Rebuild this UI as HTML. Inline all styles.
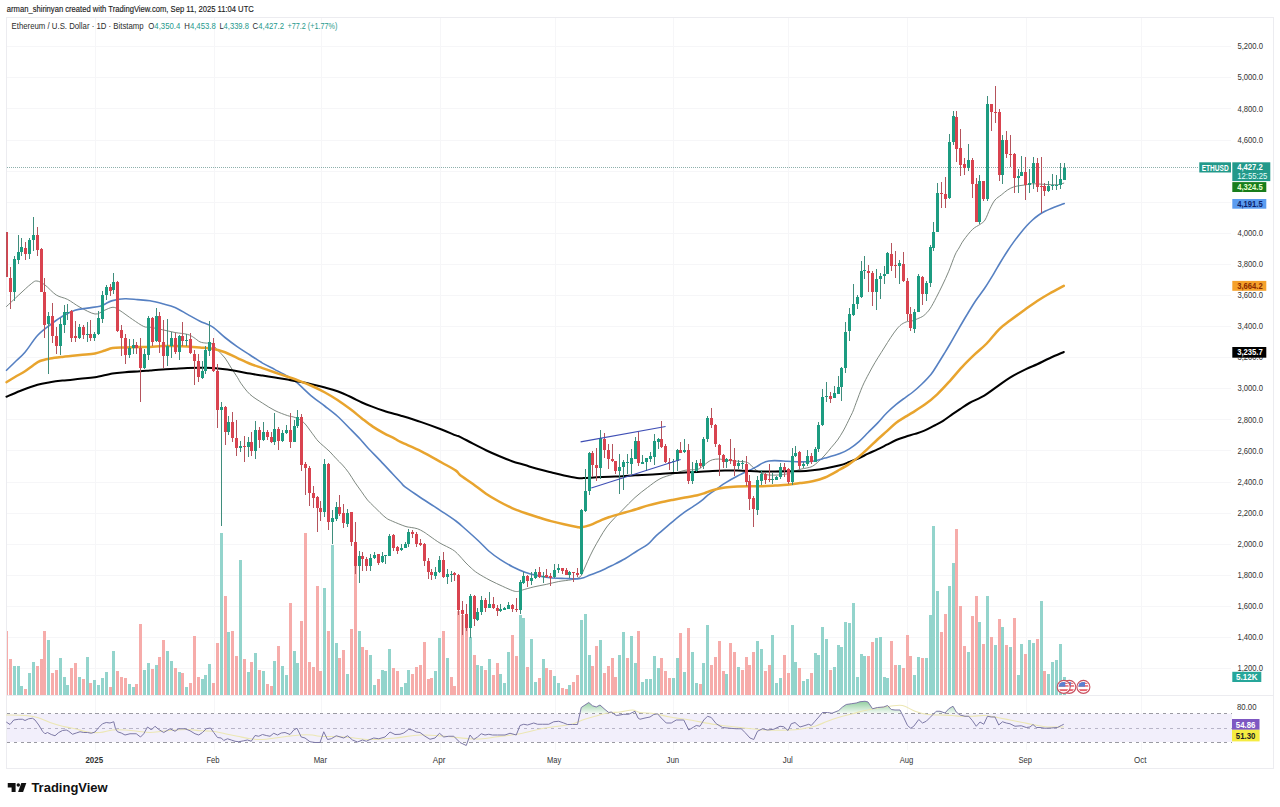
<!DOCTYPE html>
<html><head><meta charset="utf-8"><title>ETHUSD chart</title>
<style>html,body{margin:0;padding:0;background:#fff}body{width:1280px;height:807px;overflow:hidden;position:relative;font-family:"Liberation Sans",sans-serif}svg{position:absolute;left:0;top:0}text{font-family:"Liberation Sans",sans-serif}</style>
</head><body>
<svg width="1280" height="807" viewBox="0 0 1280 807">
<rect x="0" y="0" width="1280" height="807" fill="#ffffff"/>
<g stroke="#f6f6f8" stroke-width="1" shape-rendering="crispEdges">
<line x1="7" x2="1231" y1="46.5" y2="46.5"/>
<line x1="7" x2="1231" y1="77.5" y2="77.5"/>
<line x1="7" x2="1231" y1="108.5" y2="108.5"/>
<line x1="7" x2="1231" y1="140.5" y2="140.5"/>
<line x1="7" x2="1231" y1="171.5" y2="171.5"/>
<line x1="7" x2="1231" y1="202.5" y2="202.5"/>
<line x1="7" x2="1231" y1="233.5" y2="233.5"/>
<line x1="7" x2="1231" y1="264.5" y2="264.5"/>
<line x1="7" x2="1231" y1="295.5" y2="295.5"/>
<line x1="7" x2="1231" y1="326.5" y2="326.5"/>
<line x1="7" x2="1231" y1="357.5" y2="357.5"/>
<line x1="7" x2="1231" y1="388.5" y2="388.5"/>
<line x1="7" x2="1231" y1="419.5" y2="419.5"/>
<line x1="7" x2="1231" y1="450.5" y2="450.5"/>
<line x1="7" x2="1231" y1="482.5" y2="482.5"/>
<line x1="7" x2="1231" y1="513.5" y2="513.5"/>
<line x1="7" x2="1231" y1="544.5" y2="544.5"/>
<line x1="7" x2="1231" y1="575.5" y2="575.5"/>
<line x1="7" x2="1231" y1="606.5" y2="606.5"/>
<line x1="7" x2="1231" y1="637.5" y2="637.5"/>
<line x1="7" x2="1231" y1="668.5" y2="668.5"/>
<line x1="95.5" x2="95.5" y1="18" y2="750"/>
<line x1="214.5" x2="214.5" y1="18" y2="750"/>
<line x1="321.5" x2="321.5" y1="18" y2="750"/>
<line x1="440.5" x2="440.5" y1="18" y2="750"/>
<line x1="555.5" x2="555.5" y1="18" y2="750"/>
<line x1="673.5" x2="673.5" y1="18" y2="750"/>
<line x1="788.5" x2="788.5" y1="18" y2="750"/>
<line x1="907.5" x2="907.5" y1="18" y2="750"/>
<line x1="1026.5" x2="1026.5" y1="18" y2="750"/>
<line x1="1141.5" x2="1141.5" y1="18" y2="750"/>
</g>
<g fill="none" stroke="#ececf0" stroke-width="1" shape-rendering="crispEdges">
<rect x="6.5" y="17.5" width="1267" height="751"/>
<line x1="7" x2="1273" y1="695.5" y2="695.5"/>
</g>
<g shape-rendering="crispEdges">
<rect x="7" y="631" width="1" height="64" fill="#f6acaa"/>
<rect x="9" y="659" width="3" height="36" fill="#f6acaa"/>
<rect x="13" y="666" width="3" height="29" fill="#93d4cc"/>
<rect x="17" y="666" width="3" height="29" fill="#93d4cc"/>
<rect x="20" y="686" width="3" height="9" fill="#93d4cc"/>
<rect x="24" y="689" width="3" height="6" fill="#f6acaa"/>
<rect x="28" y="673" width="3" height="22" fill="#93d4cc"/>
<rect x="32" y="662" width="3" height="33" fill="#93d4cc"/>
<rect x="36" y="666" width="3" height="29" fill="#f6acaa"/>
<rect x="40" y="659" width="3" height="36" fill="#f6acaa"/>
<rect x="43" y="631" width="3" height="64" fill="#f6acaa"/>
<rect x="47" y="640" width="3" height="55" fill="#93d4cc"/>
<rect x="51" y="673" width="3" height="22" fill="#f6acaa"/>
<rect x="55" y="670" width="3" height="25" fill="#f6acaa"/>
<rect x="59" y="658" width="3" height="37" fill="#93d4cc"/>
<rect x="63" y="677" width="3" height="18" fill="#93d4cc"/>
<rect x="66" y="685" width="3" height="10" fill="#93d4cc"/>
<rect x="70" y="668" width="3" height="27" fill="#f6acaa"/>
<rect x="74" y="663" width="3" height="32" fill="#f6acaa"/>
<rect x="78" y="677" width="3" height="18" fill="#93d4cc"/>
<rect x="82" y="679" width="3" height="16" fill="#f6acaa"/>
<rect x="86" y="657" width="3" height="38" fill="#93d4cc"/>
<rect x="89" y="683" width="3" height="12" fill="#f6acaa"/>
<rect x="93" y="680" width="3" height="15" fill="#93d4cc"/>
<rect x="97" y="685" width="3" height="10" fill="#93d4cc"/>
<rect x="101" y="678" width="3" height="17" fill="#93d4cc"/>
<rect x="105" y="672" width="3" height="23" fill="#93d4cc"/>
<rect x="109" y="687" width="3" height="8" fill="#f6acaa"/>
<rect x="112" y="651" width="3" height="44" fill="#93d4cc"/>
<rect x="116" y="671" width="3" height="24" fill="#f6acaa"/>
<rect x="120" y="677" width="3" height="18" fill="#f6acaa"/>
<rect x="124" y="678" width="3" height="17" fill="#f6acaa"/>
<rect x="128" y="684" width="3" height="11" fill="#93d4cc"/>
<rect x="132" y="687" width="3" height="8" fill="#93d4cc"/>
<rect x="135" y="684" width="3" height="11" fill="#f6acaa"/>
<rect x="139" y="624" width="3" height="71" fill="#f6acaa"/>
<rect x="143" y="670" width="3" height="25" fill="#93d4cc"/>
<rect x="147" y="663" width="3" height="32" fill="#93d4cc"/>
<rect x="151" y="669" width="3" height="26" fill="#f6acaa"/>
<rect x="155" y="665" width="3" height="30" fill="#93d4cc"/>
<rect x="158" y="657" width="3" height="38" fill="#f6acaa"/>
<rect x="162" y="640" width="3" height="55" fill="#f6acaa"/>
<rect x="166" y="651" width="3" height="44" fill="#93d4cc"/>
<rect x="170" y="661" width="3" height="34" fill="#93d4cc"/>
<rect x="174" y="668" width="3" height="27" fill="#f6acaa"/>
<rect x="178" y="672" width="3" height="23" fill="#93d4cc"/>
<rect x="181" y="673" width="3" height="22" fill="#f6acaa"/>
<rect x="185" y="687" width="3" height="8" fill="#93d4cc"/>
<rect x="189" y="683" width="3" height="12" fill="#f6acaa"/>
<rect x="193" y="636" width="3" height="59" fill="#f6acaa"/>
<rect x="197" y="677" width="3" height="18" fill="#f6acaa"/>
<rect x="201" y="679" width="3" height="16" fill="#93d4cc"/>
<rect x="204" y="675" width="3" height="20" fill="#93d4cc"/>
<rect x="208" y="664" width="3" height="31" fill="#93d4cc"/>
<rect x="212" y="683" width="3" height="12" fill="#f6acaa"/>
<rect x="216" y="643" width="3" height="52" fill="#f6acaa"/>
<rect x="220" y="533" width="3" height="162" fill="#93d4cc"/>
<rect x="224" y="596" width="3" height="99" fill="#f6acaa"/>
<rect x="227" y="632" width="3" height="63" fill="#93d4cc"/>
<rect x="231" y="631" width="3" height="64" fill="#f6acaa"/>
<rect x="235" y="656" width="3" height="39" fill="#f6acaa"/>
<rect x="239" y="560" width="3" height="135" fill="#93d4cc"/>
<rect x="243" y="659" width="3" height="36" fill="#f6acaa"/>
<rect x="247" y="672" width="3" height="23" fill="#93d4cc"/>
<rect x="250" y="662" width="3" height="33" fill="#f6acaa"/>
<rect x="254" y="653" width="3" height="42" fill="#93d4cc"/>
<rect x="258" y="670" width="3" height="25" fill="#f6acaa"/>
<rect x="262" y="671" width="3" height="24" fill="#93d4cc"/>
<rect x="266" y="684" width="3" height="11" fill="#f6acaa"/>
<rect x="270" y="686" width="3" height="9" fill="#f6acaa"/>
<rect x="273" y="661" width="3" height="34" fill="#93d4cc"/>
<rect x="277" y="646" width="3" height="49" fill="#f6acaa"/>
<rect x="281" y="666" width="3" height="29" fill="#93d4cc"/>
<rect x="285" y="675" width="3" height="20" fill="#93d4cc"/>
<rect x="289" y="603" width="3" height="92" fill="#f6acaa"/>
<rect x="293" y="651" width="3" height="44" fill="#93d4cc"/>
<rect x="296" y="663" width="3" height="32" fill="#93d4cc"/>
<rect x="300" y="621" width="3" height="74" fill="#f6acaa"/>
<rect x="304" y="533" width="3" height="162" fill="#f6acaa"/>
<rect x="308" y="662" width="3" height="33" fill="#f6acaa"/>
<rect x="312" y="667" width="3" height="28" fill="#f6acaa"/>
<rect x="316" y="586" width="3" height="109" fill="#f6acaa"/>
<rect x="319" y="671" width="3" height="24" fill="#f6acaa"/>
<rect x="323" y="588" width="3" height="107" fill="#93d4cc"/>
<rect x="327" y="631" width="3" height="64" fill="#f6acaa"/>
<rect x="331" y="545" width="3" height="150" fill="#93d4cc"/>
<rect x="335" y="643" width="3" height="52" fill="#93d4cc"/>
<rect x="338" y="658" width="3" height="37" fill="#f6acaa"/>
<rect x="342" y="650" width="3" height="45" fill="#f6acaa"/>
<rect x="346" y="674" width="3" height="21" fill="#93d4cc"/>
<rect x="350" y="629" width="3" height="66" fill="#f6acaa"/>
<rect x="354" y="560" width="3" height="135" fill="#f6acaa"/>
<rect x="358" y="631" width="3" height="64" fill="#93d4cc"/>
<rect x="361" y="647" width="3" height="48" fill="#f6acaa"/>
<rect x="365" y="650" width="3" height="45" fill="#f6acaa"/>
<rect x="369" y="655" width="3" height="40" fill="#93d4cc"/>
<rect x="373" y="685" width="3" height="10" fill="#93d4cc"/>
<rect x="377" y="679" width="3" height="16" fill="#f6acaa"/>
<rect x="381" y="670" width="3" height="25" fill="#93d4cc"/>
<rect x="384" y="671" width="3" height="24" fill="#93d4cc"/>
<rect x="388" y="649" width="3" height="46" fill="#93d4cc"/>
<rect x="392" y="668" width="3" height="27" fill="#f6acaa"/>
<rect x="396" y="671" width="3" height="24" fill="#f6acaa"/>
<rect x="400" y="687" width="3" height="8" fill="#93d4cc"/>
<rect x="404" y="683" width="3" height="12" fill="#93d4cc"/>
<rect x="407" y="670" width="3" height="25" fill="#93d4cc"/>
<rect x="411" y="674" width="3" height="21" fill="#f6acaa"/>
<rect x="415" y="667" width="3" height="28" fill="#f6acaa"/>
<rect x="419" y="665" width="3" height="30" fill="#f6acaa"/>
<rect x="423" y="642" width="3" height="53" fill="#f6acaa"/>
<rect x="427" y="679" width="3" height="16" fill="#f6acaa"/>
<rect x="430" y="678" width="3" height="17" fill="#f6acaa"/>
<rect x="434" y="671" width="3" height="24" fill="#93d4cc"/>
<rect x="438" y="638" width="3" height="57" fill="#93d4cc"/>
<rect x="442" y="631" width="3" height="64" fill="#f6acaa"/>
<rect x="446" y="658" width="3" height="37" fill="#93d4cc"/>
<rect x="450" y="677" width="3" height="18" fill="#f6acaa"/>
<rect x="453" y="686" width="3" height="9" fill="#f6acaa"/>
<rect x="457" y="611" width="3" height="84" fill="#f6acaa"/>
<rect x="461" y="615" width="3" height="80" fill="#f6acaa"/>
<rect x="465" y="627" width="3" height="68" fill="#f6acaa"/>
<rect x="469" y="637" width="3" height="58" fill="#93d4cc"/>
<rect x="473" y="655" width="3" height="40" fill="#f6acaa"/>
<rect x="476" y="665" width="3" height="30" fill="#93d4cc"/>
<rect x="480" y="666" width="3" height="29" fill="#93d4cc"/>
<rect x="484" y="670" width="3" height="25" fill="#f6acaa"/>
<rect x="488" y="659" width="3" height="36" fill="#93d4cc"/>
<rect x="492" y="675" width="3" height="20" fill="#f6acaa"/>
<rect x="496" y="663" width="3" height="32" fill="#f6acaa"/>
<rect x="499" y="674" width="3" height="21" fill="#93d4cc"/>
<rect x="503" y="683" width="3" height="12" fill="#93d4cc"/>
<rect x="507" y="652" width="3" height="43" fill="#93d4cc"/>
<rect x="511" y="635" width="3" height="60" fill="#f6acaa"/>
<rect x="515" y="656" width="3" height="39" fill="#f6acaa"/>
<rect x="519" y="615" width="3" height="80" fill="#93d4cc"/>
<rect x="522" y="618" width="3" height="77" fill="#93d4cc"/>
<rect x="526" y="667" width="3" height="28" fill="#f6acaa"/>
<rect x="530" y="639" width="3" height="56" fill="#93d4cc"/>
<rect x="534" y="682" width="3" height="13" fill="#93d4cc"/>
<rect x="538" y="678" width="3" height="17" fill="#f6acaa"/>
<rect x="542" y="659" width="3" height="36" fill="#93d4cc"/>
<rect x="545" y="668" width="3" height="27" fill="#f6acaa"/>
<rect x="549" y="670" width="3" height="25" fill="#f6acaa"/>
<rect x="553" y="676" width="3" height="19" fill="#93d4cc"/>
<rect x="557" y="683" width="3" height="12" fill="#93d4cc"/>
<rect x="561" y="688" width="3" height="7" fill="#f6acaa"/>
<rect x="565" y="689" width="3" height="6" fill="#f6acaa"/>
<rect x="568" y="685" width="3" height="10" fill="#93d4cc"/>
<rect x="572" y="682" width="3" height="13" fill="#f6acaa"/>
<rect x="576" y="675" width="3" height="20" fill="#f6acaa"/>
<rect x="580" y="620" width="3" height="75" fill="#93d4cc"/>
<rect x="584" y="614" width="3" height="81" fill="#93d4cc"/>
<rect x="588" y="655" width="3" height="40" fill="#93d4cc"/>
<rect x="591" y="666" width="3" height="29" fill="#f6acaa"/>
<rect x="595" y="646" width="3" height="49" fill="#f6acaa"/>
<rect x="599" y="640" width="3" height="55" fill="#93d4cc"/>
<rect x="603" y="673" width="3" height="22" fill="#f6acaa"/>
<rect x="607" y="666" width="3" height="29" fill="#f6acaa"/>
<rect x="611" y="658" width="3" height="37" fill="#f6acaa"/>
<rect x="614" y="677" width="3" height="18" fill="#f6acaa"/>
<rect x="618" y="655" width="3" height="40" fill="#93d4cc"/>
<rect x="622" y="632" width="3" height="63" fill="#93d4cc"/>
<rect x="626" y="658" width="3" height="37" fill="#f6acaa"/>
<rect x="630" y="636" width="3" height="59" fill="#93d4cc"/>
<rect x="634" y="663" width="3" height="32" fill="#93d4cc"/>
<rect x="637" y="631" width="3" height="64" fill="#f6acaa"/>
<rect x="641" y="682" width="3" height="13" fill="#93d4cc"/>
<rect x="645" y="679" width="3" height="16" fill="#93d4cc"/>
<rect x="649" y="679" width="3" height="16" fill="#93d4cc"/>
<rect x="653" y="656" width="3" height="39" fill="#93d4cc"/>
<rect x="657" y="668" width="3" height="27" fill="#93d4cc"/>
<rect x="660" y="658" width="3" height="37" fill="#f6acaa"/>
<rect x="664" y="671" width="3" height="24" fill="#f6acaa"/>
<rect x="668" y="678" width="3" height="17" fill="#f6acaa"/>
<rect x="672" y="678" width="3" height="17" fill="#93d4cc"/>
<rect x="676" y="658" width="3" height="37" fill="#93d4cc"/>
<rect x="679" y="633" width="3" height="62" fill="#f6acaa"/>
<rect x="683" y="672" width="3" height="23" fill="#93d4cc"/>
<rect x="687" y="628" width="3" height="67" fill="#f6acaa"/>
<rect x="691" y="652" width="3" height="43" fill="#93d4cc"/>
<rect x="695" y="683" width="3" height="12" fill="#93d4cc"/>
<rect x="699" y="684" width="3" height="11" fill="#f6acaa"/>
<rect x="702" y="663" width="3" height="32" fill="#93d4cc"/>
<rect x="706" y="625" width="3" height="70" fill="#93d4cc"/>
<rect x="710" y="665" width="3" height="30" fill="#f6acaa"/>
<rect x="714" y="657" width="3" height="38" fill="#f6acaa"/>
<rect x="718" y="641" width="3" height="54" fill="#f6acaa"/>
<rect x="722" y="671" width="3" height="24" fill="#f6acaa"/>
<rect x="725" y="674" width="3" height="21" fill="#93d4cc"/>
<rect x="729" y="643" width="3" height="52" fill="#f6acaa"/>
<rect x="733" y="652" width="3" height="43" fill="#f6acaa"/>
<rect x="737" y="667" width="3" height="28" fill="#93d4cc"/>
<rect x="741" y="670" width="3" height="25" fill="#f6acaa"/>
<rect x="745" y="657" width="3" height="38" fill="#f6acaa"/>
<rect x="748" y="665" width="3" height="30" fill="#f6acaa"/>
<rect x="752" y="652" width="3" height="43" fill="#f6acaa"/>
<rect x="756" y="641" width="3" height="54" fill="#93d4cc"/>
<rect x="760" y="649" width="3" height="46" fill="#93d4cc"/>
<rect x="764" y="671" width="3" height="24" fill="#f6acaa"/>
<rect x="768" y="665" width="3" height="30" fill="#f6acaa"/>
<rect x="771" y="635" width="3" height="60" fill="#93d4cc"/>
<rect x="775" y="683" width="3" height="12" fill="#93d4cc"/>
<rect x="779" y="678" width="3" height="17" fill="#93d4cc"/>
<rect x="783" y="655" width="3" height="40" fill="#f6acaa"/>
<rect x="787" y="673" width="3" height="22" fill="#f6acaa"/>
<rect x="791" y="625" width="3" height="70" fill="#93d4cc"/>
<rect x="794" y="662" width="3" height="33" fill="#93d4cc"/>
<rect x="798" y="668" width="3" height="27" fill="#f6acaa"/>
<rect x="802" y="681" width="3" height="14" fill="#93d4cc"/>
<rect x="806" y="679" width="3" height="16" fill="#93d4cc"/>
<rect x="810" y="673" width="3" height="22" fill="#f6acaa"/>
<rect x="814" y="653" width="3" height="42" fill="#93d4cc"/>
<rect x="817" y="655" width="3" height="40" fill="#93d4cc"/>
<rect x="821" y="627" width="3" height="68" fill="#93d4cc"/>
<rect x="825" y="639" width="3" height="56" fill="#93d4cc"/>
<rect x="829" y="670" width="3" height="25" fill="#f6acaa"/>
<rect x="833" y="667" width="3" height="28" fill="#93d4cc"/>
<rect x="837" y="645" width="3" height="50" fill="#93d4cc"/>
<rect x="840" y="647" width="3" height="48" fill="#93d4cc"/>
<rect x="844" y="622" width="3" height="73" fill="#93d4cc"/>
<rect x="848" y="623" width="3" height="72" fill="#93d4cc"/>
<rect x="852" y="603" width="3" height="92" fill="#93d4cc"/>
<rect x="856" y="677" width="3" height="18" fill="#93d4cc"/>
<rect x="860" y="654" width="3" height="41" fill="#93d4cc"/>
<rect x="863" y="656" width="3" height="39" fill="#93d4cc"/>
<rect x="867" y="656" width="3" height="39" fill="#f6acaa"/>
<rect x="871" y="642" width="3" height="53" fill="#f6acaa"/>
<rect x="875" y="638" width="3" height="57" fill="#93d4cc"/>
<rect x="879" y="637" width="3" height="58" fill="#93d4cc"/>
<rect x="883" y="677" width="3" height="18" fill="#93d4cc"/>
<rect x="886" y="678" width="3" height="17" fill="#93d4cc"/>
<rect x="890" y="641" width="3" height="54" fill="#f6acaa"/>
<rect x="894" y="665" width="3" height="30" fill="#f6acaa"/>
<rect x="898" y="665" width="3" height="30" fill="#93d4cc"/>
<rect x="902" y="668" width="3" height="27" fill="#f6acaa"/>
<rect x="906" y="635" width="3" height="60" fill="#f6acaa"/>
<rect x="909" y="656" width="3" height="39" fill="#f6acaa"/>
<rect x="913" y="675" width="3" height="20" fill="#93d4cc"/>
<rect x="917" y="657" width="3" height="38" fill="#93d4cc"/>
<rect x="921" y="658" width="3" height="37" fill="#f6acaa"/>
<rect x="925" y="658" width="3" height="37" fill="#93d4cc"/>
<rect x="929" y="615" width="3" height="80" fill="#93d4cc"/>
<rect x="932" y="526" width="3" height="169" fill="#93d4cc"/>
<rect x="936" y="591" width="3" height="104" fill="#93d4cc"/>
<rect x="940" y="632" width="3" height="63" fill="#f6acaa"/>
<rect x="944" y="614" width="3" height="81" fill="#f6acaa"/>
<rect x="948" y="586" width="3" height="109" fill="#93d4cc"/>
<rect x="952" y="563" width="3" height="132" fill="#93d4cc"/>
<rect x="955" y="529" width="3" height="166" fill="#f6acaa"/>
<rect x="959" y="606" width="3" height="89" fill="#f6acaa"/>
<rect x="963" y="646" width="3" height="49" fill="#f6acaa"/>
<rect x="967" y="652" width="3" height="43" fill="#93d4cc"/>
<rect x="971" y="616" width="3" height="79" fill="#f6acaa"/>
<rect x="975" y="596" width="3" height="99" fill="#f6acaa"/>
<rect x="978" y="622" width="3" height="73" fill="#93d4cc"/>
<rect x="982" y="644" width="3" height="51" fill="#f6acaa"/>
<rect x="986" y="596" width="3" height="99" fill="#93d4cc"/>
<rect x="990" y="637" width="3" height="58" fill="#f6acaa"/>
<rect x="994" y="645" width="3" height="50" fill="#93d4cc"/>
<rect x="998" y="619" width="3" height="76" fill="#f6acaa"/>
<rect x="1001" y="627" width="3" height="68" fill="#93d4cc"/>
<rect x="1005" y="645" width="3" height="50" fill="#f6acaa"/>
<rect x="1009" y="647" width="3" height="48" fill="#93d4cc"/>
<rect x="1013" y="618" width="3" height="77" fill="#f6acaa"/>
<rect x="1017" y="675" width="3" height="20" fill="#93d4cc"/>
<rect x="1020" y="644" width="3" height="51" fill="#93d4cc"/>
<rect x="1024" y="654" width="3" height="41" fill="#f6acaa"/>
<rect x="1028" y="640" width="3" height="55" fill="#93d4cc"/>
<rect x="1032" y="643" width="3" height="52" fill="#93d4cc"/>
<rect x="1036" y="639" width="3" height="56" fill="#f6acaa"/>
<rect x="1040" y="601" width="3" height="94" fill="#93d4cc"/>
<rect x="1043" y="671" width="3" height="24" fill="#f6acaa"/>
<rect x="1047" y="674" width="3" height="21" fill="#93d4cc"/>
<rect x="1051" y="662" width="3" height="33" fill="#93d4cc"/>
<rect x="1055" y="660" width="3" height="35" fill="#93d4cc"/>
<rect x="1059" y="644" width="3" height="51" fill="#93d4cc"/>
<rect x="1063" y="677" width="3" height="18" fill="#93d4cc"/>
</g>
<line x1="7" x2="1199" y1="167.5" y2="167.5" stroke="#5f8f89" stroke-width="1" stroke-dasharray="1 1" opacity="0.7" shape-rendering="crispEdges"/>
<g fill="none" stroke-linejoin="round" stroke-linecap="round">
<path d="M6.5 306.5C8.54 304.58 14.62 298.79 18.75 295C22.88 291.21 28.23 286.08 31.25 283.75C34.27 281.42 34.61 280.79 36.9 281C39.19 281.21 41.77 282.67 45 285C48.23 287.33 52.5 292.6 56.25 295C60 297.4 63.54 297.36 67.5 299.4C71.46 301.44 75.42 304.82 80 307.25C84.58 309.68 91.04 313.44 95 314C98.96 314.56 100.75 311.73 103.75 310.6C106.75 309.48 110.29 307.25 113 307.25C115.71 307.25 116.75 308.58 120 310.6C123.25 312.62 128.54 316.75 132.5 319.4C136.46 322.05 140.83 325.2 143.75 326.5C146.67 327.8 146.88 326.66 150 327.2C153.12 327.74 158.33 328.87 162.5 329.75C166.67 330.63 170.83 331.73 175 332.5C179.17 333.27 184.38 333.57 187.5 334.4C190.62 335.23 191.67 336.25 193.75 337.5C195.83 338.75 197.92 340.97 200 341.9C202.08 342.83 204.42 342.87 206.25 343.1C208.08 343.33 209.12 342.15 211 343.3C212.88 344.45 215.17 347.55 217.5 350C219.83 352.45 222.71 355 225 358C227.29 361 229.17 364.75 231.25 368C233.33 371.25 235.83 374.88 237.5 377.5C239.17 380.12 239.17 380.93 241.25 383.75C243.33 386.57 246.46 391.17 250 394.4C253.54 397.62 258.33 400.4 262.5 403.1C266.67 405.8 270.83 408.52 275 410.6C279.17 412.68 284.17 414.45 287.5 415.6C290.83 416.75 292.29 416.35 295 417.5C297.71 418.65 300.83 419.79 303.75 422.5C306.67 425.21 310.12 430.67 312.5 433.75C314.88 436.83 316.12 438.92 318 441C319.88 443.08 321.75 444.43 323.75 446.25C325.75 448.07 327.92 449.82 330 451.9C332.08 453.98 334.17 456.57 336.25 458.75C338.33 460.93 340.42 462.67 342.5 465C344.58 467.33 346.67 469.83 348.75 472.75C350.83 475.67 352.92 479.42 355 482.5C357.08 485.58 359.17 488.33 361.25 491.25C363.33 494.17 365.42 497.5 367.5 500C369.58 502.5 371.67 504.17 373.75 506.25C375.83 508.33 377.92 510.52 380 512.5C382.08 514.48 384.17 516.64 386.25 518.1C388.33 519.56 389.38 519.89 392.5 521.25C395.62 522.61 401.88 525.21 405 526.25C408.12 527.29 409.17 527.08 411.25 527.5C413.33 527.92 415.42 528.02 417.5 528.75C419.58 529.48 421.67 530.65 423.75 531.9C425.83 533.15 427.29 534.38 430 536.25C432.71 538.12 436.25 540.88 440 543.1C443.75 545.33 449.38 547.62 452.5 549.6C455.62 551.58 456.67 552.93 458.75 555C460.83 557.07 462.92 559.82 465 562C467.08 564.18 469.17 566.25 471.25 568.1C473.33 569.95 474.38 571.07 477.5 573.1C480.62 575.13 485.83 578.11 490 580.3C494.17 582.49 498.75 584.53 502.5 586.25C506.25 587.97 510 589.73 512.5 590.6C515 591.48 515.83 591.6 517.5 591.5C519.17 591.4 519.79 590.77 522.5 590C525.21 589.23 529.79 587.83 533.75 586.9C537.71 585.97 542.08 585.3 546.25 584.4C550.42 583.5 554.58 582.27 558.75 581.5C562.92 580.73 567.71 580.52 571.25 579.75C574.79 578.98 577.92 578.52 580 576.9C582.08 575.27 582.48 572.6 583.75 570C585.02 567.4 586.06 564.63 587.6 561.3C589.14 557.97 590.93 553.95 593 550C595.07 546.05 597.83 541.27 600 537.6C602.17 533.93 603.88 530.93 606 528C608.12 525.07 609.95 523 612.7 520C615.45 517 618.78 513.75 622.5 510C626.22 506.25 630.83 501.25 635 497.5C639.17 493.75 643.33 490.62 647.5 487.5C651.67 484.38 655.83 480.98 660 478.8C664.17 476.62 668.33 475.82 672.5 474.4C676.67 472.98 680.83 471.13 685 470.3C689.17 469.47 694.5 470.12 697.5 469.4C700.5 468.68 701.25 467.23 703 466C704.75 464.77 706.42 463.04 708 462C709.58 460.96 710.71 460.25 712.5 459.75C714.29 459.25 716.67 458.96 718.75 459C720.83 459.04 721.88 459.62 725 460C728.12 460.38 733.75 460.83 737.5 461.25C741.25 461.67 744.79 461.36 747.5 462.5C750.21 463.64 751.67 466.43 753.75 468.1C755.83 469.77 757.5 471.35 760 472.5C762.5 473.65 765.21 474.62 768.75 475C772.29 475.38 777.71 475.07 781.25 474.75C784.79 474.43 786.88 473.99 790 473.1C793.12 472.21 797.29 470.23 800 469.4C802.71 468.57 804.17 468.62 806.25 468.1C808.33 467.58 810.42 467.39 812.5 466.25C814.58 465.11 816.67 463.12 818.75 461.25C820.83 459.38 822.92 457.29 825 455C827.08 452.71 829.17 450 831.25 447.5C833.33 445 835.42 442.92 837.5 440C839.58 437.08 841.67 433.75 843.75 430C845.83 426.25 848.44 420.67 850 417.5C851.56 414.33 852.06 413.5 853.1 411C854.14 408.5 854.68 406.62 856.25 402.5C857.82 398.38 860.42 391.04 862.5 386.25C864.58 381.46 866.67 377.71 868.75 373.75C870.83 369.79 872.92 366.04 875 362.5C877.08 358.96 879.17 355.83 881.25 352.5C883.33 349.17 885.42 345.73 887.5 342.5C889.58 339.27 891.67 335.92 893.75 333.1C895.83 330.28 897.92 327.47 900 325.6C902.08 323.73 904.38 322.62 906.25 321.9C908.12 321.17 909.38 321.77 911.25 321.25C913.12 320.73 915.42 319.69 917.5 318.75C919.58 317.81 921.67 317.27 923.75 315.6C925.83 313.93 927.92 311.77 930 308.75C932.08 305.73 934.17 301.46 936.25 297.5C938.33 293.54 940.42 289.38 942.5 285C944.58 280.62 946.67 276.25 948.75 271.25C950.83 266.25 953.29 258.88 955 255C956.71 251.12 957.54 250.5 959 248C960.46 245.5 961.5 243.1 963.75 240C966 236.9 969.79 232 972.5 229.4C975.21 226.8 977.92 225.97 980 224.4C982.08 222.83 983.33 222.61 985 220C986.67 217.39 988.33 212.08 990 208.75C991.67 205.42 993.12 202.29 995 200C996.88 197.71 999.17 196.67 1001.25 195C1003.33 193.33 1005.42 191.35 1007.5 190C1009.58 188.65 1011.67 187.63 1013.75 186.9C1015.83 186.17 1017.92 185.96 1020 185.6C1022.08 185.24 1024.17 185.06 1026.25 184.75C1028.33 184.44 1029.38 183.81 1032.5 183.75C1035.62 183.69 1040.83 184.23 1045 184.4C1049.17 184.57 1054.38 184.97 1057.5 184.75C1060.62 184.53 1062.71 183.38 1063.75 183.1" stroke="#6f7a72" stroke-width="0.9"/>
<path d="M6.5 370.3C7.92 368.92 11.92 365.02 15 362C18.08 358.98 21.25 356.62 25 352.2C28.75 347.78 33.33 340.03 37.5 335.5C41.67 330.97 45.83 328.21 50 325C54.17 321.79 58.33 318.71 62.5 316.25C66.67 313.79 70.83 311.61 75 310.25C79.17 308.89 83.33 308.77 87.5 308.1C91.67 307.43 96.92 307.02 100 306.25C103.08 305.48 103.92 304.44 106 303.5C108.08 302.56 109.33 301.39 112.5 300.6C115.67 299.81 120.83 298.92 125 298.75C129.17 298.58 133.33 299.26 137.5 299.6C141.67 299.94 145.83 300.11 150 300.8C154.17 301.49 158.33 302.63 162.5 303.75C166.67 304.87 170.83 305.73 175 307.5C179.17 309.27 183.33 312.11 187.5 314.4C191.67 316.69 195.83 319.17 200 321.25C204.17 323.33 208.33 324.19 212.5 326.9C216.67 329.61 220.83 334.17 225 337.5C229.17 340.83 233.33 343.98 237.5 346.9C241.67 349.82 245.83 352.3 250 355C254.17 357.7 258.33 360.67 262.5 363.1C266.67 365.53 270.83 367.41 275 369.6C279.17 371.79 284.17 374.35 287.5 376.25C290.83 378.15 292.92 379.48 295 381C297.08 382.52 297.08 382.75 300 385.4C302.92 388.05 308.33 393.42 312.5 396.9C316.67 400.38 320.83 403.02 325 406.25C329.17 409.48 333.33 412.5 337.5 416.25C341.67 420 346.2 424.91 350 428.75C353.8 432.59 357.38 436.18 360.3 439.3C363.22 442.43 364.1 443.87 367.5 447.5C370.9 451.13 376.53 456.73 380.7 461.1C384.87 465.48 389.12 470.13 392.5 473.75C395.88 477.37 398.92 480.61 401 482.8C403.08 484.99 402.25 484.78 405 486.9C407.75 489.02 413.33 492.69 417.5 495.5C421.67 498.31 425.98 501.12 430 503.75C434.02 506.38 437.28 508.43 441.6 511.3C445.92 514.17 452 518.09 455.9 521C459.8 523.91 461.4 525.58 465 528.75C468.6 531.92 473.33 536.12 477.5 540C481.67 543.88 486.25 548.77 490 552C493.75 555.23 496.25 556.95 500 559.4C503.75 561.85 508.33 564.57 512.5 566.7C516.67 568.83 520.83 570.72 525 572.2C529.17 573.68 533.33 574.68 537.5 575.6C541.67 576.52 545.42 577.22 550 577.7C554.58 578.18 560.42 578.3 565 578.5C569.58 578.7 574.38 579.02 577.5 578.9C580.62 578.77 581.67 578.4 583.75 577.75C585.83 577.1 587.29 576.09 590 575C592.71 573.91 596.33 572.78 600 571.2C603.67 569.62 607.83 567.57 612 565.5C616.17 563.43 620.83 561.22 625 558.8C629.17 556.38 633.22 553.4 637 551C640.78 548.6 644.73 546.72 647.7 544.4C650.67 542.08 652.63 539.2 654.8 537.1C656.97 535 657.77 534.35 660.7 531.8C663.63 529.25 668.48 525.03 672.4 521.8C676.32 518.57 680.27 515.25 684.2 512.4C688.13 509.55 693.05 506.7 696 504.7C698.95 502.7 699.93 501.98 701.9 500.4C703.87 498.82 706.03 496.62 707.8 495.2C709.57 493.78 709.63 493.92 712.5 491.9C715.37 489.88 720.83 485.75 725 483.1C729.17 480.45 733.33 478.18 737.5 476C741.67 473.82 746.88 471.52 750 470C753.12 468.48 754.17 468.05 756.25 466.9C758.33 465.75 760.42 464.08 762.5 463.1C764.58 462.12 766.67 461.42 768.75 461C770.83 460.58 771.88 460.56 775 460.6C778.12 460.64 783.33 461.03 787.5 461.25C791.67 461.47 795.83 461.9 800 461.9C804.17 461.9 808.33 461.88 812.5 461.25C816.67 460.62 820.42 459.38 825 458.1C829.58 456.83 835.93 455.13 840 453.6C844.07 452.07 846.28 450.85 849.4 448.9C852.52 446.95 855.58 444.63 858.7 441.9C861.82 439.17 864.97 435.63 868.1 432.5C871.23 429.37 874.37 426.38 877.5 423.1C880.63 419.82 883.78 415.92 886.9 412.8C890.02 409.68 893.08 406.98 896.2 404.4C899.32 401.82 902.82 399.37 905.6 397.3C908.38 395.23 910.18 394.22 912.9 392C915.62 389.78 918.9 386.92 921.9 384C924.9 381.08 928.3 377.75 930.9 374.5C933.5 371.25 935.32 367.92 937.5 364.5C939.68 361.08 941.92 357.42 944 354C946.08 350.58 947.7 347.95 950 344C952.3 340.05 955 335.13 957.8 330.3C960.6 325.47 963.8 319.97 966.8 315C969.8 310.03 972.8 305 975.8 300.5C978.8 296 981.8 292.48 984.8 288C987.8 283.52 991.27 277.77 993.8 273.6C996.33 269.43 997.72 266.77 1000 263C1002.28 259.23 1005.21 254.52 1007.5 251C1009.79 247.48 1011.67 244.78 1013.75 241.9C1015.83 239.03 1017.92 236.36 1020 233.75C1022.08 231.14 1024.17 228.54 1026.25 226.25C1028.33 223.96 1030.42 221.88 1032.5 220C1034.58 218.12 1036.67 216.46 1038.75 215C1040.83 213.54 1042.92 212.33 1045 211.25C1047.08 210.17 1049.17 209.38 1051.25 208.5C1053.33 207.62 1055.33 206.83 1057.5 206C1059.67 205.17 1063.12 203.92 1064.25 203.5" stroke="#5680c2" stroke-width="1.6"/>
<path d="M6.5 396.7C8.75 395.75 14.83 392.99 20 391C25.17 389.01 32.5 386.2 37.5 384.75C42.5 383.3 45.83 382.99 50 382.3C54.17 381.61 57.5 381.18 62.5 380.6C67.5 380.02 74.58 379.36 80 378.8C85.42 378.24 89.58 378.13 95 377.25C100.42 376.37 107.5 374.34 112.5 373.5C117.5 372.66 120.42 372.57 125 372.2C129.58 371.82 135.83 371.55 140 371.25C144.17 370.95 146.25 370.71 150 370.4C153.75 370.09 158.33 369.67 162.5 369.4C166.67 369.12 170.83 368.97 175 368.75C179.17 368.53 183.33 368.27 187.5 368.1C191.67 367.93 195.83 367.78 200 367.75C204.17 367.72 208.33 367.66 212.5 367.9C216.67 368.14 220.83 368.65 225 369.2C229.17 369.75 233.33 370.47 237.5 371.2C241.67 371.93 245.83 372.87 250 373.6C254.17 374.33 258.33 374.95 262.5 375.6C266.67 376.25 270.83 376.83 275 377.5C279.17 378.17 283.33 378.88 287.5 379.6C291.67 380.32 295.83 381 300 381.8C304.17 382.6 308.33 383.45 312.5 384.4C316.67 385.35 320.83 386.36 325 387.5C329.17 388.64 333.18 389.67 337.5 391.25C341.82 392.83 346.83 395.12 350.9 397C354.97 398.88 358.25 400.85 361.9 402.5C365.55 404.15 369.17 405.53 372.8 406.9C376.43 408.27 380.05 409.52 383.7 410.7C387.35 411.88 391.82 413.17 394.7 414C397.58 414.83 396.57 414.35 401 415.7C405.43 417.05 414.53 419.8 421.3 422.1C428.07 424.4 435.83 427.28 441.6 429.5C447.37 431.72 452.83 434.18 455.9 435.4C458.97 436.62 457.15 435.42 460 436.8C462.85 438.18 468.67 441.47 473 443.7C477.33 445.93 481.67 448.15 486 450.2C490.33 452.25 494.67 454.17 499 456C503.33 457.83 507.67 459.68 512 461.2C516.33 462.72 520.67 463.8 525 465.1C529.33 466.4 533.67 467.8 538 469C542.33 470.2 546.67 471.22 551 472.3C555.33 473.38 559.67 474.57 564 475.5C568.33 476.43 573.73 477.47 577 477.9C580.27 478.33 580.33 478.2 583.6 478.1C586.87 478 592.2 477.53 596.6 477.3C601 477.07 605.68 476.88 610 476.7C614.32 476.52 618.33 476.49 622.5 476.25C626.67 476.01 630.83 475.5 635 475.25C639.17 475 643.33 474.96 647.5 474.75C651.67 474.54 655.83 474.27 660 474C664.17 473.73 668.33 473.35 672.5 473.1C676.67 472.85 680.83 472.7 685 472.5C689.17 472.3 692.92 472.15 697.5 471.9C702.08 471.65 707.92 471.22 712.5 471C717.08 470.78 720.83 470.67 725 470.6C729.17 470.53 733.33 470.53 737.5 470.6C741.67 470.67 745.83 470.85 750 471C754.17 471.15 758.33 471.42 762.5 471.5C766.67 471.58 770.83 471.54 775 471.5C779.17 471.46 783.33 471.29 787.5 471.25C791.67 471.21 795.83 471.42 800 471.25C804.17 471.08 808.33 470.71 812.5 470.25C816.67 469.79 820.42 469.32 825 468.5C829.58 467.68 835.93 466.38 840 465.3C844.07 464.22 846.28 463.17 849.4 462C852.52 460.83 855.58 459.7 858.7 458.3C861.82 456.9 864.97 455.08 868.1 453.6C871.23 452.12 874.37 450.88 877.5 449.4C880.63 447.92 883.78 446.27 886.9 444.7C890.02 443.13 893.08 441.33 896.2 440C899.32 438.67 902.47 437.72 905.6 436.7C908.73 435.68 911.87 434.92 915 433.9C918.13 432.88 921.28 431.93 924.4 430.6C927.52 429.27 930.58 427.53 933.7 425.9C936.82 424.27 939.97 422.75 943.1 420.8C946.23 418.85 949.68 416.15 952.5 414.2C955.32 412.25 957.18 410.97 960 409.1C962.82 407.23 965.35 405.25 969.4 403C973.45 400.75 979.75 398.28 984.3 395.6C988.85 392.92 992.42 389.9 996.7 386.9C1000.98 383.9 1005.12 380.57 1010 377.6C1014.88 374.63 1021.47 371.33 1026 369.1C1030.53 366.87 1033.27 366.02 1037.2 364.2C1041.13 362.38 1045.17 360.23 1049.6 358.2C1054.03 356.17 1061.43 353.03 1063.8 352" stroke="#000000" stroke-width="2.05"/>
<path d="M6.5 382.2C7.92 381.33 11.92 378.82 15 377C18.08 375.18 22 373.17 25 371.25C28 369.33 30.5 367.21 33 365.5C35.5 363.79 37.17 362.15 40 361C42.83 359.85 46.25 359.28 50 358.6C53.75 357.92 57.5 357.5 62.5 356.9C67.5 356.3 74.58 355.57 80 355C85.42 354.43 90.83 354.25 95 353.5C99.17 352.75 102.08 351.4 105 350.5C107.92 349.6 109.17 348.6 112.5 348.1C115.83 347.6 120.42 347.68 125 347.5C129.58 347.32 135.83 347.08 140 347C144.17 346.92 146.25 347.17 150 347C153.75 346.83 158.33 346.17 162.5 346C166.67 345.83 170.83 345.92 175 346C179.17 346.08 183.33 346.25 187.5 346.5C191.67 346.75 195.83 347.12 200 347.5C204.17 347.88 208.33 347.96 212.5 348.75C216.67 349.54 220.83 350.69 225 352.25C229.17 353.81 233.33 356.18 237.5 358.1C241.67 360.02 245.83 362.08 250 363.75C254.17 365.42 258.33 366.64 262.5 368.1C266.67 369.56 270.83 371.07 275 372.5C279.17 373.93 283.33 375.27 287.5 376.7C291.67 378.13 295.83 379.51 300 381.1C304.17 382.69 308.33 384.35 312.5 386.25C316.67 388.15 320.83 390.21 325 392.5C329.17 394.79 333.18 397.15 337.5 400C341.82 402.85 346.83 406.53 350.9 409.6C354.97 412.67 358.25 415.57 361.9 418.4C365.55 421.23 369.17 424.15 372.8 426.6C376.43 429.05 380.05 431.1 383.7 433.1C387.35 435.1 391.82 437.08 394.7 438.6C397.58 440.12 396.57 440.08 401 442.2C405.43 444.32 414.53 447.92 421.3 451.3C428.07 454.68 435.83 459.28 441.6 462.5C447.37 465.72 452.83 468.53 455.9 470.6C458.97 472.67 457.15 472.67 460 474.9C462.85 477.13 468.67 480.87 473 484C477.33 487.13 481.67 490.78 486 493.7C490.33 496.62 494.67 499.1 499 501.5C503.33 503.9 508.75 506.57 512 508.1C515.25 509.63 516.33 509.88 518.5 510.7C520.67 511.52 521.75 511.92 525 513C528.25 514.08 533.67 515.85 538 517.2C542.33 518.55 546.67 519.92 551 521.1C555.33 522.28 559.67 523.33 564 524.3C568.33 525.27 574.07 526.4 577 526.9C579.93 527.4 579.43 527.58 581.6 527.3C583.77 527.02 586.63 526.45 590 525.2C593.37 523.95 598.47 521.18 601.8 519.8C605.13 518.42 606.13 518.12 610 516.9C613.87 515.68 620.5 513.82 625 512.5C629.5 511.18 633.25 510.15 637 509C640.75 507.85 643.67 506.68 647.5 505.6C651.33 504.52 655.83 503.45 660 502.5C664.17 501.55 668.33 500.73 672.5 499.9C676.67 499.07 680.83 498.28 685 497.5C689.17 496.72 694.17 495.95 697.5 495.2C700.83 494.45 702.5 493.82 705 493C707.5 492.18 709.17 491.2 712.5 490.3C715.83 489.4 720.83 488.23 725 487.6C729.17 486.97 733.33 486.73 737.5 486.5C741.67 486.27 745.83 486.29 750 486.25C754.17 486.21 758.33 486.36 762.5 486.25C766.67 486.14 770.83 485.85 775 485.6C779.17 485.35 783.33 485.17 787.5 484.75C791.67 484.33 795.83 483.68 800 483.1C804.17 482.52 808.33 482.18 812.5 481.25C816.67 480.32 820.42 479.46 825 477.5C829.58 475.54 835.93 471.77 840 469.5C844.07 467.23 846.28 466 849.4 463.9C852.52 461.8 855.58 459.48 858.7 456.9C861.82 454.32 864.97 451.3 868.1 448.4C871.23 445.5 874.37 442.38 877.5 439.5C880.63 436.62 883.78 433.9 886.9 431.1C890.02 428.3 893.08 425.12 896.2 422.7C899.32 420.28 902.9 418.28 905.6 416.6C908.3 414.92 909.2 414.6 912.4 412.6C915.6 410.6 920.67 407.65 924.8 404.6C928.93 401.55 933.07 398.18 937.2 394.3C941.33 390.42 945.47 385.83 949.6 381.3C953.73 376.77 957.87 371.53 962 367.1C966.13 362.67 970.28 358.63 974.4 354.7C978.52 350.77 982.58 347.73 986.7 343.5C990.82 339.27 995.22 333.12 999.1 329.3C1002.98 325.48 1005.72 323.87 1010 320.6C1014.28 317.33 1020.27 312.97 1024.8 309.7C1029.33 306.43 1033.07 303.7 1037.2 301C1041.33 298.3 1045.17 296.02 1049.6 293.5C1054.03 290.98 1061.43 287.17 1063.8 285.9" stroke="#e8a42e" stroke-width="2.5"/>
</g>
<g>
<rect x="6" y="232" width="1" height="45" fill="#b5535c"/>
<rect x="7" y="232" width="1" height="45" fill="#d9434f"/>
<rect x="10" y="267" width="1" height="42" fill="#b5535c"/>
<rect x="9" y="278" width="3" height="14" fill="#d9434f"/>
<rect x="14" y="256" width="1" height="45" fill="#3f8d7c"/>
<rect x="13" y="259" width="3" height="33" fill="#1c9c81"/>
<rect x="18" y="235" width="1" height="29" fill="#3f8d7c"/>
<rect x="17" y="252" width="3" height="8" fill="#1c9c81"/>
<rect x="21" y="238" width="1" height="18" fill="#3f8d7c"/>
<rect x="20" y="247" width="3" height="5" fill="#1c9c81"/>
<rect x="25" y="242" width="1" height="18" fill="#b5535c"/>
<rect x="24" y="248" width="3" height="6" fill="#d9434f"/>
<rect x="29" y="238" width="1" height="21" fill="#3f8d7c"/>
<rect x="28" y="240" width="3" height="14" fill="#1c9c81"/>
<rect x="33" y="217" width="1" height="34" fill="#3f8d7c"/>
<rect x="32" y="235" width="3" height="5" fill="#1c9c81"/>
<rect x="37" y="227" width="1" height="29" fill="#b5535c"/>
<rect x="36" y="235" width="3" height="15" fill="#d9434f"/>
<rect x="41" y="248" width="1" height="44" fill="#b5535c"/>
<rect x="40" y="249" width="3" height="43" fill="#d9434f"/>
<rect x="44" y="278" width="1" height="60" fill="#b5535c"/>
<rect x="43" y="292" width="3" height="33" fill="#d9434f"/>
<rect x="48" y="312" width="1" height="62" fill="#3f8d7c"/>
<rect x="47" y="316" width="3" height="8" fill="#1c9c81"/>
<rect x="52" y="303" width="1" height="40" fill="#b5535c"/>
<rect x="51" y="316" width="3" height="20" fill="#d9434f"/>
<rect x="56" y="327" width="1" height="27" fill="#b5535c"/>
<rect x="55" y="336" width="3" height="10" fill="#d9434f"/>
<rect x="60" y="318" width="1" height="37" fill="#3f8d7c"/>
<rect x="59" y="324" width="3" height="22" fill="#1c9c81"/>
<rect x="64" y="305" width="1" height="28" fill="#3f8d7c"/>
<rect x="63" y="312" width="3" height="13" fill="#1c9c81"/>
<rect x="67" y="304" width="1" height="16" fill="#3f8d7c"/>
<rect x="66" y="312" width="3" height="1" fill="#1c9c81"/>
<rect x="71" y="310" width="1" height="32" fill="#b5535c"/>
<rect x="70" y="311" width="3" height="27" fill="#d9434f"/>
<rect x="75" y="321" width="1" height="21" fill="#b5535c"/>
<rect x="74" y="336" width="3" height="2" fill="#d9434f"/>
<rect x="79" y="324" width="1" height="15" fill="#3f8d7c"/>
<rect x="78" y="327" width="3" height="11" fill="#1c9c81"/>
<rect x="83" y="325" width="1" height="14" fill="#b5535c"/>
<rect x="82" y="327" width="3" height="8" fill="#d9434f"/>
<rect x="87" y="322" width="1" height="20" fill="#3f8d7c"/>
<rect x="86" y="334" width="3" height="1" fill="#1c9c81"/>
<rect x="90" y="320" width="1" height="21" fill="#b5535c"/>
<rect x="89" y="334" width="3" height="4" fill="#d9434f"/>
<rect x="94" y="332" width="1" height="9" fill="#3f8d7c"/>
<rect x="93" y="334" width="3" height="4" fill="#1c9c81"/>
<rect x="98" y="311" width="1" height="24" fill="#3f8d7c"/>
<rect x="97" y="318" width="3" height="16" fill="#1c9c81"/>
<rect x="102" y="291" width="1" height="32" fill="#3f8d7c"/>
<rect x="101" y="295" width="3" height="24" fill="#1c9c81"/>
<rect x="106" y="285" width="1" height="15" fill="#3f8d7c"/>
<rect x="105" y="287" width="3" height="8" fill="#1c9c81"/>
<rect x="110" y="284" width="1" height="12" fill="#b5535c"/>
<rect x="109" y="287" width="3" height="4" fill="#d9434f"/>
<rect x="113" y="273" width="1" height="21" fill="#3f8d7c"/>
<rect x="112" y="282" width="3" height="8" fill="#1c9c81"/>
<rect x="117" y="281" width="1" height="51" fill="#b5535c"/>
<rect x="116" y="282" width="3" height="49" fill="#d9434f"/>
<rect x="121" y="325" width="1" height="31" fill="#b5535c"/>
<rect x="120" y="330" width="3" height="8" fill="#d9434f"/>
<rect x="125" y="334" width="1" height="30" fill="#b5535c"/>
<rect x="124" y="338" width="3" height="17" fill="#d9434f"/>
<rect x="129" y="339" width="1" height="19" fill="#3f8d7c"/>
<rect x="128" y="348" width="3" height="7" fill="#1c9c81"/>
<rect x="133" y="339" width="1" height="15" fill="#3f8d7c"/>
<rect x="132" y="345" width="3" height="3" fill="#1c9c81"/>
<rect x="136" y="342" width="1" height="12" fill="#b5535c"/>
<rect x="135" y="345" width="3" height="3" fill="#d9434f"/>
<rect x="140" y="338" width="1" height="64" fill="#b5535c"/>
<rect x="139" y="348" width="3" height="20" fill="#d9434f"/>
<rect x="144" y="349" width="1" height="20" fill="#3f8d7c"/>
<rect x="143" y="354" width="3" height="14" fill="#1c9c81"/>
<rect x="148" y="316" width="1" height="44" fill="#3f8d7c"/>
<rect x="147" y="318" width="3" height="37" fill="#1c9c81"/>
<rect x="152" y="317" width="1" height="29" fill="#b5535c"/>
<rect x="151" y="318" width="3" height="24" fill="#d9434f"/>
<rect x="156" y="308" width="1" height="34" fill="#3f8d7c"/>
<rect x="155" y="316" width="3" height="25" fill="#1c9c81"/>
<rect x="159" y="312" width="1" height="41" fill="#b5535c"/>
<rect x="158" y="316" width="3" height="26" fill="#d9434f"/>
<rect x="163" y="320" width="1" height="48" fill="#b5535c"/>
<rect x="162" y="342" width="3" height="14" fill="#d9434f"/>
<rect x="167" y="319" width="1" height="47" fill="#3f8d7c"/>
<rect x="166" y="346" width="3" height="10" fill="#1c9c81"/>
<rect x="171" y="332" width="1" height="26" fill="#3f8d7c"/>
<rect x="170" y="338" width="3" height="8" fill="#1c9c81"/>
<rect x="175" y="333" width="1" height="21" fill="#b5535c"/>
<rect x="174" y="338" width="3" height="14" fill="#d9434f"/>
<rect x="179" y="335" width="1" height="25" fill="#3f8d7c"/>
<rect x="178" y="336" width="3" height="16" fill="#1c9c81"/>
<rect x="182" y="322" width="1" height="24" fill="#b5535c"/>
<rect x="181" y="336" width="3" height="5" fill="#d9434f"/>
<rect x="186" y="334" width="1" height="12" fill="#3f8d7c"/>
<rect x="185" y="340" width="3" height="1" fill="#1c9c81"/>
<rect x="190" y="333" width="1" height="21" fill="#b5535c"/>
<rect x="189" y="339" width="3" height="14" fill="#d9434f"/>
<rect x="194" y="350" width="1" height="35" fill="#b5535c"/>
<rect x="193" y="354" width="3" height="7" fill="#d9434f"/>
<rect x="198" y="354" width="1" height="28" fill="#b5535c"/>
<rect x="197" y="361" width="3" height="16" fill="#d9434f"/>
<rect x="202" y="361" width="1" height="18" fill="#3f8d7c"/>
<rect x="201" y="371" width="3" height="7" fill="#1c9c81"/>
<rect x="205" y="346" width="1" height="28" fill="#3f8d7c"/>
<rect x="204" y="350" width="3" height="21" fill="#1c9c81"/>
<rect x="209" y="321" width="1" height="35" fill="#3f8d7c"/>
<rect x="208" y="342" width="3" height="9" fill="#1c9c81"/>
<rect x="213" y="338" width="1" height="34" fill="#b5535c"/>
<rect x="212" y="343" width="3" height="28" fill="#d9434f"/>
<rect x="217" y="364" width="1" height="64" fill="#b5535c"/>
<rect x="216" y="371" width="3" height="39" fill="#d9434f"/>
<rect x="221" y="402" width="1" height="124" fill="#3f8d7c"/>
<rect x="220" y="407" width="3" height="3" fill="#1c9c81"/>
<rect x="225" y="406" width="1" height="39" fill="#b5535c"/>
<rect x="224" y="407" width="3" height="25" fill="#d9434f"/>
<rect x="228" y="416" width="1" height="19" fill="#3f8d7c"/>
<rect x="227" y="422" width="3" height="10" fill="#1c9c81"/>
<rect x="232" y="412" width="1" height="30" fill="#b5535c"/>
<rect x="231" y="422" width="3" height="16" fill="#d9434f"/>
<rect x="236" y="420" width="1" height="36" fill="#b5535c"/>
<rect x="235" y="438" width="3" height="10" fill="#d9434f"/>
<rect x="240" y="441" width="1" height="11" fill="#3f8d7c"/>
<rect x="239" y="446" width="3" height="2" fill="#1c9c81"/>
<rect x="244" y="436" width="1" height="26" fill="#b5535c"/>
<rect x="243" y="446" width="3" height="1" fill="#d9434f"/>
<rect x="248" y="437" width="1" height="20" fill="#3f8d7c"/>
<rect x="247" y="442" width="3" height="5" fill="#1c9c81"/>
<rect x="251" y="432" width="1" height="24" fill="#b5535c"/>
<rect x="250" y="442" width="3" height="9" fill="#d9434f"/>
<rect x="255" y="421" width="1" height="38" fill="#3f8d7c"/>
<rect x="254" y="430" width="3" height="21" fill="#1c9c81"/>
<rect x="259" y="427" width="1" height="21" fill="#b5535c"/>
<rect x="258" y="430" width="3" height="10" fill="#d9434f"/>
<rect x="263" y="422" width="1" height="19" fill="#3f8d7c"/>
<rect x="262" y="432" width="3" height="8" fill="#1c9c81"/>
<rect x="267" y="430" width="1" height="10" fill="#b5535c"/>
<rect x="266" y="432" width="3" height="5" fill="#d9434f"/>
<rect x="271" y="432" width="1" height="11" fill="#b5535c"/>
<rect x="270" y="437" width="3" height="5" fill="#d9434f"/>
<rect x="274" y="413" width="1" height="32" fill="#3f8d7c"/>
<rect x="273" y="429" width="3" height="13" fill="#1c9c81"/>
<rect x="278" y="427" width="1" height="23" fill="#b5535c"/>
<rect x="277" y="429" width="3" height="12" fill="#d9434f"/>
<rect x="282" y="430" width="1" height="12" fill="#3f8d7c"/>
<rect x="281" y="433" width="3" height="8" fill="#1c9c81"/>
<rect x="286" y="425" width="1" height="9" fill="#3f8d7c"/>
<rect x="285" y="430" width="3" height="3" fill="#1c9c81"/>
<rect x="290" y="413" width="1" height="35" fill="#b5535c"/>
<rect x="289" y="430" width="3" height="12" fill="#d9434f"/>
<rect x="294" y="420" width="1" height="22" fill="#3f8d7c"/>
<rect x="293" y="426" width="3" height="16" fill="#1c9c81"/>
<rect x="297" y="410" width="1" height="18" fill="#3f8d7c"/>
<rect x="296" y="417" width="3" height="9" fill="#1c9c81"/>
<rect x="301" y="414" width="1" height="57" fill="#b5535c"/>
<rect x="300" y="417" width="3" height="48" fill="#d9434f"/>
<rect x="305" y="462" width="1" height="33" fill="#b5535c"/>
<rect x="304" y="464" width="3" height="4" fill="#d9434f"/>
<rect x="309" y="466" width="1" height="40" fill="#b5535c"/>
<rect x="308" y="468" width="3" height="25" fill="#d9434f"/>
<rect x="313" y="486" width="1" height="22" fill="#b5535c"/>
<rect x="312" y="493" width="3" height="5" fill="#d9434f"/>
<rect x="317" y="496" width="1" height="36" fill="#b5535c"/>
<rect x="316" y="497" width="3" height="11" fill="#d9434f"/>
<rect x="320" y="501" width="1" height="20" fill="#b5535c"/>
<rect x="319" y="508" width="3" height="4" fill="#d9434f"/>
<rect x="324" y="459" width="1" height="58" fill="#3f8d7c"/>
<rect x="323" y="464" width="3" height="48" fill="#1c9c81"/>
<rect x="328" y="463" width="1" height="67" fill="#b5535c"/>
<rect x="327" y="464" width="3" height="58" fill="#d9434f"/>
<rect x="332" y="510" width="1" height="34" fill="#3f8d7c"/>
<rect x="331" y="518" width="3" height="4" fill="#1c9c81"/>
<rect x="336" y="502" width="1" height="19" fill="#3f8d7c"/>
<rect x="335" y="507" width="3" height="12" fill="#1c9c81"/>
<rect x="339" y="495" width="1" height="21" fill="#b5535c"/>
<rect x="338" y="507" width="3" height="7" fill="#d9434f"/>
<rect x="343" y="504" width="1" height="24" fill="#b5535c"/>
<rect x="342" y="513" width="3" height="10" fill="#d9434f"/>
<rect x="347" y="509" width="1" height="18" fill="#3f8d7c"/>
<rect x="346" y="513" width="3" height="11" fill="#1c9c81"/>
<rect x="351" y="512" width="1" height="34" fill="#b5535c"/>
<rect x="350" y="512" width="3" height="30" fill="#d9434f"/>
<rect x="355" y="522" width="1" height="52" fill="#b5535c"/>
<rect x="354" y="542" width="3" height="24" fill="#d9434f"/>
<rect x="359" y="551" width="1" height="32" fill="#3f8d7c"/>
<rect x="358" y="556" width="3" height="10" fill="#1c9c81"/>
<rect x="362" y="552" width="1" height="19" fill="#b5535c"/>
<rect x="361" y="556" width="3" height="3" fill="#d9434f"/>
<rect x="366" y="557" width="1" height="14" fill="#b5535c"/>
<rect x="365" y="559" width="3" height="7" fill="#d9434f"/>
<rect x="370" y="554" width="1" height="17" fill="#3f8d7c"/>
<rect x="369" y="558" width="3" height="8" fill="#1c9c81"/>
<rect x="374" y="552" width="1" height="7" fill="#3f8d7c"/>
<rect x="373" y="555" width="3" height="3" fill="#1c9c81"/>
<rect x="378" y="554" width="1" height="11" fill="#b5535c"/>
<rect x="377" y="554" width="3" height="9" fill="#d9434f"/>
<rect x="382" y="552" width="1" height="11" fill="#3f8d7c"/>
<rect x="381" y="556" width="3" height="6" fill="#1c9c81"/>
<rect x="385" y="555" width="1" height="9" fill="#3f8d7c"/>
<rect x="384" y="555" width="3" height="1" fill="#1c9c81"/>
<rect x="389" y="534" width="1" height="22" fill="#3f8d7c"/>
<rect x="388" y="536" width="3" height="20" fill="#1c9c81"/>
<rect x="393" y="534" width="1" height="17" fill="#b5535c"/>
<rect x="392" y="535" width="3" height="13" fill="#d9434f"/>
<rect x="397" y="546" width="1" height="8" fill="#b5535c"/>
<rect x="396" y="547" width="3" height="4" fill="#d9434f"/>
<rect x="401" y="544" width="1" height="7" fill="#3f8d7c"/>
<rect x="400" y="548" width="3" height="2" fill="#1c9c81"/>
<rect x="405" y="542" width="1" height="6" fill="#3f8d7c"/>
<rect x="404" y="544" width="3" height="4" fill="#1c9c81"/>
<rect x="408" y="529" width="1" height="18" fill="#3f8d7c"/>
<rect x="407" y="532" width="3" height="12" fill="#1c9c81"/>
<rect x="412" y="530" width="1" height="8" fill="#b5535c"/>
<rect x="411" y="532" width="3" height="2" fill="#d9434f"/>
<rect x="416" y="532" width="1" height="15" fill="#b5535c"/>
<rect x="415" y="534" width="3" height="10" fill="#d9434f"/>
<rect x="420" y="539" width="1" height="7" fill="#b5535c"/>
<rect x="419" y="543" width="3" height="2" fill="#d9434f"/>
<rect x="424" y="543" width="1" height="23" fill="#b5535c"/>
<rect x="423" y="544" width="3" height="17" fill="#d9434f"/>
<rect x="428" y="558" width="1" height="21" fill="#b5535c"/>
<rect x="427" y="561" width="3" height="11" fill="#d9434f"/>
<rect x="431" y="569" width="1" height="11" fill="#b5535c"/>
<rect x="430" y="572" width="3" height="3" fill="#d9434f"/>
<rect x="435" y="567" width="1" height="12" fill="#3f8d7c"/>
<rect x="434" y="572" width="3" height="4" fill="#1c9c81"/>
<rect x="439" y="556" width="1" height="17" fill="#3f8d7c"/>
<rect x="438" y="560" width="3" height="12" fill="#1c9c81"/>
<rect x="443" y="552" width="1" height="26" fill="#b5535c"/>
<rect x="442" y="560" width="3" height="17" fill="#d9434f"/>
<rect x="447" y="569" width="1" height="15" fill="#3f8d7c"/>
<rect x="446" y="574" width="3" height="3" fill="#1c9c81"/>
<rect x="451" y="571" width="1" height="11" fill="#3f8d7c"/>
<rect x="450" y="574" width="3" height="1" fill="#1c9c81"/>
<rect x="454" y="572" width="1" height="9" fill="#b5535c"/>
<rect x="453" y="573" width="3" height="2" fill="#d9434f"/>
<rect x="458" y="574" width="1" height="41" fill="#b5535c"/>
<rect x="457" y="575" width="3" height="35" fill="#d9434f"/>
<rect x="462" y="601" width="1" height="34" fill="#b5535c"/>
<rect x="461" y="610" width="3" height="4" fill="#d9434f"/>
<rect x="466" y="604" width="1" height="27" fill="#b5535c"/>
<rect x="465" y="614" width="3" height="14" fill="#d9434f"/>
<rect x="470" y="594" width="1" height="44" fill="#3f8d7c"/>
<rect x="469" y="596" width="3" height="32" fill="#1c9c81"/>
<rect x="474" y="595" width="1" height="31" fill="#b5535c"/>
<rect x="473" y="596" width="3" height="23" fill="#d9434f"/>
<rect x="477" y="608" width="1" height="13" fill="#3f8d7c"/>
<rect x="476" y="612" width="3" height="8" fill="#1c9c81"/>
<rect x="481" y="596" width="1" height="19" fill="#3f8d7c"/>
<rect x="480" y="600" width="3" height="12" fill="#1c9c81"/>
<rect x="485" y="598" width="1" height="14" fill="#b5535c"/>
<rect x="484" y="600" width="3" height="8" fill="#d9434f"/>
<rect x="489" y="592" width="1" height="16" fill="#3f8d7c"/>
<rect x="488" y="604" width="3" height="4" fill="#1c9c81"/>
<rect x="493" y="597" width="1" height="12" fill="#b5535c"/>
<rect x="492" y="604" width="3" height="4" fill="#d9434f"/>
<rect x="497" y="605" width="1" height="11" fill="#b5535c"/>
<rect x="496" y="608" width="3" height="3" fill="#d9434f"/>
<rect x="500" y="604" width="1" height="8" fill="#3f8d7c"/>
<rect x="499" y="609" width="3" height="2" fill="#1c9c81"/>
<rect x="504" y="607" width="1" height="3" fill="#3f8d7c"/>
<rect x="503" y="608" width="3" height="2" fill="#1c9c81"/>
<rect x="508" y="602" width="1" height="7" fill="#3f8d7c"/>
<rect x="507" y="605" width="3" height="4" fill="#1c9c81"/>
<rect x="512" y="604" width="1" height="8" fill="#b5535c"/>
<rect x="511" y="605" width="3" height="4" fill="#d9434f"/>
<rect x="516" y="598" width="1" height="14" fill="#b5535c"/>
<rect x="515" y="609" width="3" height="1" fill="#d9434f"/>
<rect x="520" y="580" width="1" height="34" fill="#3f8d7c"/>
<rect x="519" y="582" width="3" height="28" fill="#1c9c81"/>
<rect x="523" y="572" width="1" height="12" fill="#3f8d7c"/>
<rect x="522" y="576" width="3" height="7" fill="#1c9c81"/>
<rect x="527" y="575" width="1" height="12" fill="#b5535c"/>
<rect x="526" y="576" width="3" height="5" fill="#d9434f"/>
<rect x="531" y="572" width="1" height="13" fill="#3f8d7c"/>
<rect x="530" y="578" width="3" height="3" fill="#1c9c81"/>
<rect x="535" y="569" width="1" height="10" fill="#3f8d7c"/>
<rect x="534" y="572" width="3" height="6" fill="#1c9c81"/>
<rect x="539" y="567" width="1" height="11" fill="#b5535c"/>
<rect x="538" y="572" width="3" height="5" fill="#d9434f"/>
<rect x="543" y="572" width="1" height="11" fill="#3f8d7c"/>
<rect x="542" y="576" width="3" height="1" fill="#1c9c81"/>
<rect x="546" y="569" width="1" height="9" fill="#b5535c"/>
<rect x="545" y="575" width="3" height="2" fill="#d9434f"/>
<rect x="550" y="573" width="1" height="13" fill="#b5535c"/>
<rect x="549" y="576" width="3" height="2" fill="#d9434f"/>
<rect x="554" y="564" width="1" height="14" fill="#3f8d7c"/>
<rect x="553" y="570" width="3" height="7" fill="#1c9c81"/>
<rect x="558" y="564" width="1" height="9" fill="#3f8d7c"/>
<rect x="557" y="568" width="3" height="2" fill="#1c9c81"/>
<rect x="562" y="568" width="1" height="6" fill="#b5535c"/>
<rect x="561" y="568" width="3" height="3" fill="#d9434f"/>
<rect x="566" y="568" width="1" height="7" fill="#b5535c"/>
<rect x="565" y="570" width="3" height="5" fill="#d9434f"/>
<rect x="569" y="571" width="1" height="7" fill="#3f8d7c"/>
<rect x="568" y="572" width="3" height="3" fill="#1c9c81"/>
<rect x="573" y="572" width="1" height="10" fill="#b5535c"/>
<rect x="572" y="572" width="3" height="1" fill="#d9434f"/>
<rect x="577" y="568" width="1" height="9" fill="#b5535c"/>
<rect x="576" y="573" width="3" height="2" fill="#d9434f"/>
<rect x="581" y="509" width="1" height="66" fill="#3f8d7c"/>
<rect x="580" y="510" width="3" height="64" fill="#1c9c81"/>
<rect x="585" y="469" width="1" height="43" fill="#3f8d7c"/>
<rect x="584" y="491" width="3" height="20" fill="#1c9c81"/>
<rect x="589" y="452" width="1" height="43" fill="#3f8d7c"/>
<rect x="588" y="453" width="3" height="38" fill="#1c9c81"/>
<rect x="592" y="451" width="1" height="26" fill="#b5535c"/>
<rect x="591" y="453" width="3" height="12" fill="#d9434f"/>
<rect x="596" y="448" width="1" height="33" fill="#b5535c"/>
<rect x="595" y="465" width="3" height="3" fill="#d9434f"/>
<rect x="600" y="430" width="1" height="49" fill="#3f8d7c"/>
<rect x="599" y="438" width="3" height="30" fill="#1c9c81"/>
<rect x="604" y="433" width="1" height="25" fill="#b5535c"/>
<rect x="603" y="439" width="3" height="11" fill="#d9434f"/>
<rect x="608" y="444" width="1" height="25" fill="#b5535c"/>
<rect x="607" y="450" width="3" height="9" fill="#d9434f"/>
<rect x="612" y="444" width="1" height="18" fill="#b5535c"/>
<rect x="611" y="459" width="3" height="2" fill="#d9434f"/>
<rect x="615" y="461" width="1" height="13" fill="#b5535c"/>
<rect x="614" y="461" width="3" height="10" fill="#d9434f"/>
<rect x="619" y="454" width="1" height="40" fill="#3f8d7c"/>
<rect x="618" y="467" width="3" height="4" fill="#1c9c81"/>
<rect x="623" y="460" width="1" height="30" fill="#3f8d7c"/>
<rect x="622" y="462" width="3" height="5" fill="#1c9c81"/>
<rect x="627" y="454" width="1" height="20" fill="#3f8d7c"/>
<rect x="626" y="462" width="3" height="1" fill="#1c9c81"/>
<rect x="631" y="449" width="1" height="25" fill="#3f8d7c"/>
<rect x="630" y="458" width="3" height="6" fill="#1c9c81"/>
<rect x="635" y="437" width="1" height="22" fill="#3f8d7c"/>
<rect x="634" y="441" width="3" height="18" fill="#1c9c81"/>
<rect x="638" y="432" width="1" height="34" fill="#b5535c"/>
<rect x="637" y="441" width="3" height="22" fill="#d9434f"/>
<rect x="642" y="455" width="1" height="9" fill="#3f8d7c"/>
<rect x="641" y="462" width="3" height="2" fill="#1c9c81"/>
<rect x="646" y="458" width="1" height="13" fill="#3f8d7c"/>
<rect x="645" y="458" width="3" height="4" fill="#1c9c81"/>
<rect x="650" y="452" width="1" height="10" fill="#3f8d7c"/>
<rect x="649" y="456" width="3" height="3" fill="#1c9c81"/>
<rect x="654" y="434" width="1" height="31" fill="#3f8d7c"/>
<rect x="653" y="441" width="3" height="16" fill="#1c9c81"/>
<rect x="658" y="438" width="1" height="11" fill="#3f8d7c"/>
<rect x="657" y="439" width="3" height="3" fill="#1c9c81"/>
<rect x="661" y="421" width="1" height="27" fill="#b5535c"/>
<rect x="660" y="439" width="3" height="8" fill="#d9434f"/>
<rect x="665" y="444" width="1" height="19" fill="#b5535c"/>
<rect x="664" y="446" width="3" height="16" fill="#d9434f"/>
<rect x="669" y="458" width="1" height="12" fill="#b5535c"/>
<rect x="668" y="462" width="3" height="1" fill="#d9434f"/>
<rect x="673" y="459" width="1" height="13" fill="#3f8d7c"/>
<rect x="672" y="461" width="3" height="1" fill="#1c9c81"/>
<rect x="677" y="449" width="1" height="22" fill="#3f8d7c"/>
<rect x="676" y="450" width="3" height="11" fill="#1c9c81"/>
<rect x="680" y="442" width="1" height="11" fill="#b5535c"/>
<rect x="679" y="450" width="3" height="3" fill="#d9434f"/>
<rect x="684" y="439" width="1" height="14" fill="#3f8d7c"/>
<rect x="683" y="450" width="3" height="2" fill="#1c9c81"/>
<rect x="688" y="444" width="1" height="40" fill="#b5535c"/>
<rect x="687" y="450" width="3" height="31" fill="#d9434f"/>
<rect x="692" y="462" width="1" height="22" fill="#3f8d7c"/>
<rect x="691" y="471" width="3" height="10" fill="#1c9c81"/>
<rect x="696" y="460" width="1" height="12" fill="#3f8d7c"/>
<rect x="695" y="463" width="3" height="8" fill="#1c9c81"/>
<rect x="700" y="459" width="1" height="9" fill="#b5535c"/>
<rect x="699" y="463" width="3" height="3" fill="#d9434f"/>
<rect x="703" y="437" width="1" height="32" fill="#3f8d7c"/>
<rect x="702" y="439" width="3" height="27" fill="#1c9c81"/>
<rect x="707" y="416" width="1" height="26" fill="#3f8d7c"/>
<rect x="706" y="418" width="3" height="21" fill="#1c9c81"/>
<rect x="711" y="408" width="1" height="20" fill="#b5535c"/>
<rect x="710" y="418" width="3" height="7" fill="#d9434f"/>
<rect x="715" y="424" width="1" height="23" fill="#b5535c"/>
<rect x="714" y="425" width="3" height="19" fill="#d9434f"/>
<rect x="719" y="444" width="1" height="32" fill="#b5535c"/>
<rect x="718" y="445" width="3" height="10" fill="#d9434f"/>
<rect x="723" y="454" width="1" height="14" fill="#b5535c"/>
<rect x="722" y="455" width="3" height="7" fill="#d9434f"/>
<rect x="726" y="458" width="1" height="10" fill="#3f8d7c"/>
<rect x="725" y="459" width="3" height="3" fill="#1c9c81"/>
<rect x="730" y="439" width="1" height="25" fill="#b5535c"/>
<rect x="729" y="459" width="3" height="2" fill="#d9434f"/>
<rect x="734" y="448" width="1" height="28" fill="#b5535c"/>
<rect x="733" y="460" width="3" height="6" fill="#d9434f"/>
<rect x="738" y="460" width="1" height="9" fill="#3f8d7c"/>
<rect x="737" y="463" width="3" height="3" fill="#1c9c81"/>
<rect x="742" y="460" width="1" height="9" fill="#3f8d7c"/>
<rect x="741" y="463" width="3" height="1" fill="#1c9c81"/>
<rect x="746" y="456" width="1" height="30" fill="#b5535c"/>
<rect x="745" y="464" width="3" height="18" fill="#d9434f"/>
<rect x="749" y="475" width="1" height="35" fill="#b5535c"/>
<rect x="748" y="481" width="3" height="18" fill="#d9434f"/>
<rect x="753" y="496" width="1" height="31" fill="#b5535c"/>
<rect x="752" y="498" width="3" height="11" fill="#d9434f"/>
<rect x="757" y="476" width="1" height="39" fill="#3f8d7c"/>
<rect x="756" y="480" width="3" height="30" fill="#1c9c81"/>
<rect x="761" y="470" width="1" height="15" fill="#3f8d7c"/>
<rect x="760" y="474" width="3" height="7" fill="#1c9c81"/>
<rect x="765" y="473" width="1" height="11" fill="#b5535c"/>
<rect x="764" y="474" width="3" height="6" fill="#d9434f"/>
<rect x="769" y="464" width="1" height="18" fill="#b5535c"/>
<rect x="768" y="479" width="3" height="1" fill="#d9434f"/>
<rect x="772" y="473" width="1" height="11" fill="#3f8d7c"/>
<rect x="771" y="479" width="3" height="1" fill="#1c9c81"/>
<rect x="776" y="476" width="1" height="4" fill="#3f8d7c"/>
<rect x="775" y="477" width="3" height="3" fill="#1c9c81"/>
<rect x="780" y="463" width="1" height="16" fill="#3f8d7c"/>
<rect x="779" y="467" width="3" height="10" fill="#1c9c81"/>
<rect x="784" y="463" width="1" height="14" fill="#b5535c"/>
<rect x="783" y="467" width="3" height="3" fill="#d9434f"/>
<rect x="788" y="468" width="1" height="16" fill="#b5535c"/>
<rect x="787" y="469" width="3" height="13" fill="#d9434f"/>
<rect x="792" y="448" width="1" height="37" fill="#3f8d7c"/>
<rect x="791" y="456" width="3" height="26" fill="#1c9c81"/>
<rect x="795" y="446" width="1" height="11" fill="#3f8d7c"/>
<rect x="794" y="453" width="3" height="3" fill="#1c9c81"/>
<rect x="799" y="451" width="1" height="18" fill="#b5535c"/>
<rect x="798" y="452" width="3" height="14" fill="#d9434f"/>
<rect x="803" y="462" width="1" height="6" fill="#3f8d7c"/>
<rect x="802" y="464" width="3" height="2" fill="#1c9c81"/>
<rect x="807" y="450" width="1" height="16" fill="#3f8d7c"/>
<rect x="806" y="456" width="3" height="8" fill="#1c9c81"/>
<rect x="811" y="453" width="1" height="11" fill="#b5535c"/>
<rect x="810" y="456" width="3" height="6" fill="#d9434f"/>
<rect x="815" y="447" width="1" height="15" fill="#3f8d7c"/>
<rect x="814" y="449" width="3" height="13" fill="#1c9c81"/>
<rect x="818" y="422" width="1" height="30" fill="#3f8d7c"/>
<rect x="817" y="425" width="3" height="24" fill="#1c9c81"/>
<rect x="822" y="389" width="1" height="37" fill="#3f8d7c"/>
<rect x="821" y="397" width="3" height="28" fill="#1c9c81"/>
<rect x="826" y="382" width="1" height="20" fill="#3f8d7c"/>
<rect x="825" y="396" width="3" height="1" fill="#1c9c81"/>
<rect x="830" y="392" width="1" height="11" fill="#b5535c"/>
<rect x="829" y="396" width="3" height="3" fill="#d9434f"/>
<rect x="834" y="386" width="1" height="12" fill="#3f8d7c"/>
<rect x="833" y="393" width="3" height="5" fill="#1c9c81"/>
<rect x="838" y="376" width="1" height="18" fill="#3f8d7c"/>
<rect x="837" y="387" width="3" height="7" fill="#1c9c81"/>
<rect x="841" y="367" width="1" height="34" fill="#3f8d7c"/>
<rect x="840" y="368" width="3" height="19" fill="#1c9c81"/>
<rect x="845" y="322" width="1" height="51" fill="#3f8d7c"/>
<rect x="844" y="332" width="3" height="36" fill="#1c9c81"/>
<rect x="849" y="308" width="1" height="33" fill="#3f8d7c"/>
<rect x="848" y="314" width="3" height="17" fill="#1c9c81"/>
<rect x="853" y="284" width="1" height="32" fill="#3f8d7c"/>
<rect x="852" y="304" width="3" height="11" fill="#1c9c81"/>
<rect x="857" y="295" width="1" height="14" fill="#3f8d7c"/>
<rect x="856" y="297" width="3" height="7" fill="#1c9c81"/>
<rect x="861" y="261" width="1" height="37" fill="#3f8d7c"/>
<rect x="860" y="271" width="3" height="26" fill="#1c9c81"/>
<rect x="864" y="256" width="1" height="23" fill="#3f8d7c"/>
<rect x="863" y="270" width="3" height="1" fill="#1c9c81"/>
<rect x="868" y="265" width="1" height="27" fill="#b5535c"/>
<rect x="867" y="271" width="3" height="2" fill="#d9434f"/>
<rect x="872" y="271" width="1" height="35" fill="#b5535c"/>
<rect x="871" y="273" width="3" height="19" fill="#d9434f"/>
<rect x="876" y="269" width="1" height="41" fill="#3f8d7c"/>
<rect x="875" y="279" width="3" height="13" fill="#1c9c81"/>
<rect x="880" y="273" width="1" height="26" fill="#3f8d7c"/>
<rect x="879" y="276" width="3" height="3" fill="#1c9c81"/>
<rect x="884" y="266" width="1" height="18" fill="#3f8d7c"/>
<rect x="883" y="274" width="3" height="2" fill="#1c9c81"/>
<rect x="887" y="252" width="1" height="22" fill="#3f8d7c"/>
<rect x="886" y="253" width="3" height="21" fill="#1c9c81"/>
<rect x="891" y="243" width="1" height="28" fill="#b5535c"/>
<rect x="890" y="254" width="3" height="12" fill="#d9434f"/>
<rect x="895" y="251" width="1" height="27" fill="#b5535c"/>
<rect x="894" y="265" width="3" height="1" fill="#d9434f"/>
<rect x="899" y="260" width="1" height="24" fill="#3f8d7c"/>
<rect x="898" y="263" width="3" height="3" fill="#1c9c81"/>
<rect x="903" y="252" width="1" height="30" fill="#b5535c"/>
<rect x="902" y="264" width="3" height="17" fill="#d9434f"/>
<rect x="907" y="278" width="1" height="43" fill="#b5535c"/>
<rect x="906" y="281" width="3" height="33" fill="#d9434f"/>
<rect x="910" y="307" width="1" height="24" fill="#b5535c"/>
<rect x="909" y="314" width="3" height="14" fill="#d9434f"/>
<rect x="914" y="309" width="1" height="24" fill="#3f8d7c"/>
<rect x="913" y="312" width="3" height="17" fill="#1c9c81"/>
<rect x="918" y="274" width="1" height="38" fill="#3f8d7c"/>
<rect x="917" y="276" width="3" height="36" fill="#1c9c81"/>
<rect x="922" y="276" width="1" height="29" fill="#b5535c"/>
<rect x="921" y="277" width="3" height="17" fill="#d9434f"/>
<rect x="926" y="281" width="1" height="20" fill="#3f8d7c"/>
<rect x="925" y="283" width="3" height="11" fill="#1c9c81"/>
<rect x="930" y="245" width="1" height="42" fill="#3f8d7c"/>
<rect x="929" y="247" width="3" height="36" fill="#1c9c81"/>
<rect x="933" y="222" width="1" height="29" fill="#3f8d7c"/>
<rect x="932" y="232" width="3" height="16" fill="#1c9c81"/>
<rect x="937" y="183" width="1" height="49" fill="#3f8d7c"/>
<rect x="936" y="193" width="3" height="39" fill="#1c9c81"/>
<rect x="941" y="182" width="1" height="26" fill="#b5535c"/>
<rect x="940" y="193" width="3" height="1" fill="#d9434f"/>
<rect x="945" y="177" width="1" height="31" fill="#b5535c"/>
<rect x="944" y="194" width="3" height="5" fill="#d9434f"/>
<rect x="949" y="134" width="1" height="65" fill="#3f8d7c"/>
<rect x="948" y="142" width="3" height="56" fill="#1c9c81"/>
<rect x="953" y="111" width="1" height="34" fill="#3f8d7c"/>
<rect x="952" y="116" width="3" height="26" fill="#1c9c81"/>
<rect x="956" y="111" width="1" height="51" fill="#b5535c"/>
<rect x="955" y="117" width="3" height="32" fill="#d9434f"/>
<rect x="960" y="129" width="1" height="47" fill="#b5535c"/>
<rect x="959" y="148" width="3" height="17" fill="#d9434f"/>
<rect x="964" y="158" width="1" height="17" fill="#b5535c"/>
<rect x="963" y="164" width="3" height="4" fill="#d9434f"/>
<rect x="968" y="144" width="1" height="27" fill="#3f8d7c"/>
<rect x="967" y="160" width="3" height="8" fill="#1c9c81"/>
<rect x="972" y="158" width="1" height="40" fill="#b5535c"/>
<rect x="971" y="160" width="3" height="24" fill="#d9434f"/>
<rect x="976" y="178" width="1" height="44" fill="#b5535c"/>
<rect x="975" y="184" width="3" height="38" fill="#d9434f"/>
<rect x="979" y="175" width="1" height="49" fill="#3f8d7c"/>
<rect x="978" y="181" width="3" height="41" fill="#1c9c81"/>
<rect x="983" y="181" width="1" height="20" fill="#b5535c"/>
<rect x="982" y="181" width="3" height="18" fill="#d9434f"/>
<rect x="987" y="96" width="1" height="105" fill="#3f8d7c"/>
<rect x="986" y="104" width="3" height="95" fill="#1c9c81"/>
<rect x="991" y="104" width="1" height="27" fill="#b5535c"/>
<rect x="990" y="104" width="3" height="8" fill="#d9434f"/>
<rect x="995" y="86" width="1" height="37" fill="#b5535c"/>
<rect x="994" y="112" width="3" height="1" fill="#d9434f"/>
<rect x="999" y="109" width="1" height="72" fill="#b5535c"/>
<rect x="998" y="112" width="3" height="63" fill="#d9434f"/>
<rect x="1002" y="135" width="1" height="49" fill="#3f8d7c"/>
<rect x="1001" y="140" width="3" height="35" fill="#1c9c81"/>
<rect x="1006" y="131" width="1" height="27" fill="#b5535c"/>
<rect x="1005" y="140" width="3" height="14" fill="#d9434f"/>
<rect x="1010" y="135" width="1" height="32" fill="#b5535c"/>
<rect x="1009" y="154" width="3" height="1" fill="#d9434f"/>
<rect x="1014" y="153" width="1" height="40" fill="#b5535c"/>
<rect x="1013" y="154" width="3" height="24" fill="#d9434f"/>
<rect x="1018" y="169" width="1" height="24" fill="#3f8d7c"/>
<rect x="1017" y="176" width="3" height="2" fill="#1c9c81"/>
<rect x="1021" y="156" width="1" height="20" fill="#3f8d7c"/>
<rect x="1020" y="172" width="3" height="4" fill="#1c9c81"/>
<rect x="1025" y="157" width="1" height="43" fill="#b5535c"/>
<rect x="1024" y="172" width="3" height="13" fill="#d9434f"/>
<rect x="1029" y="169" width="1" height="24" fill="#3f8d7c"/>
<rect x="1028" y="183" width="3" height="2" fill="#1c9c81"/>
<rect x="1033" y="157" width="1" height="32" fill="#3f8d7c"/>
<rect x="1032" y="163" width="3" height="20" fill="#1c9c81"/>
<rect x="1037" y="158" width="1" height="34" fill="#b5535c"/>
<rect x="1036" y="163" width="3" height="24" fill="#d9434f"/>
<rect x="1041" y="157" width="1" height="56" fill="#b5535c"/>
<rect x="1040" y="186" width="3" height="1" fill="#d9434f"/>
<rect x="1044" y="183" width="1" height="13" fill="#b5535c"/>
<rect x="1043" y="186" width="3" height="5" fill="#d9434f"/>
<rect x="1048" y="181" width="1" height="11" fill="#3f8d7c"/>
<rect x="1047" y="186" width="3" height="5" fill="#1c9c81"/>
<rect x="1052" y="174" width="1" height="16" fill="#3f8d7c"/>
<rect x="1051" y="185" width="3" height="1" fill="#1c9c81"/>
<rect x="1056" y="175" width="1" height="15" fill="#3f8d7c"/>
<rect x="1055" y="185" width="3" height="1" fill="#1c9c81"/>
<rect x="1060" y="163" width="1" height="26" fill="#3f8d7c"/>
<rect x="1059" y="179" width="3" height="6" fill="#1c9c81"/>
<rect x="1064" y="163" width="1" height="17" fill="#3f8d7c"/>
<rect x="1063" y="168" width="3" height="12" fill="#1c9c81"/>
</g>
<g stroke="#3f4fb5" stroke-width="1.1" fill="none"><line x1="580.6" y1="441.9" x2="665.6" y2="426.5"/><line x1="591.25" y1="488.1" x2="680.6" y2="459.4"/></g>
<g><circle cx="1069.3" cy="686.9" r="6.5" fill="#ffffff" stroke="#c9505f" stroke-width="1.1"/><clipPath id="fc10693"><circle cx="1069.3" cy="686.9" r="5"/></clipPath><g clip-path="url(#fc10693)"><rect x="1063.3" y="680.9" width="12" height="12" fill="#ffffff"/><rect x="1063.3" y="682.5" width="12" height="1.4" fill="#e8606c"/><rect x="1063.3" y="685.2" width="12" height="1.5" fill="#e8606c"/><rect x="1063.3" y="689.2" width="12" height="1.9" fill="#e8606c"/><rect x="1063.3" y="681.4" width="7.6" height="5.3" fill="#5b7fd0"/></g></g>
<g><circle cx="1063.7" cy="686.9" r="6.5" fill="#ffffff" stroke="#c9505f" stroke-width="1.1"/><clipPath id="fc10637"><circle cx="1063.7" cy="686.9" r="5"/></clipPath><g clip-path="url(#fc10637)"><rect x="1057.7" y="680.9" width="12" height="12" fill="#ffffff"/><rect x="1057.7" y="682.5" width="12" height="1.4" fill="#e8606c"/><rect x="1057.7" y="685.2" width="12" height="1.5" fill="#e8606c"/><rect x="1057.7" y="689.2" width="12" height="1.9" fill="#e8606c"/><rect x="1057.7" y="681.4" width="7.6" height="5.3" fill="#5b7fd0"/></g></g>
<g><circle cx="1083.4" cy="686.9" r="6.5" fill="#ffffff" stroke="#c9505f" stroke-width="1.1"/><clipPath id="fc10834"><circle cx="1083.4" cy="686.9" r="5"/></clipPath><g clip-path="url(#fc10834)"><rect x="1077.4" y="680.9" width="12" height="12" fill="#ffffff"/><rect x="1077.4" y="682.5" width="12" height="1.4" fill="#e8606c"/><rect x="1077.4" y="685.2" width="12" height="1.5" fill="#e8606c"/><rect x="1077.4" y="689.2" width="12" height="1.9" fill="#e8606c"/><rect x="1077.4" y="681.4" width="7.6" height="5.3" fill="#5b7fd0"/></g></g>
<rect x="7" y="713.75" width="1225" height="28.25" fill="#f2effb"/>
<defs><linearGradient id="ob" x1="0" y1="700" x2="0" y2="714" gradientUnits="userSpaceOnUse"><stop offset="0" stop-color="#5fb873" stop-opacity="0.75"/><stop offset="1" stop-color="#5fb873" stop-opacity="0.05"/></linearGradient><clipPath id="obc"><rect x="7" y="696" width="1225" height="17.75"/></clipPath></defs>
<path d="M6.25 722L10 724.5L13.75 720L18.75 719.25L22.5 719.25L25 720.5L28.75 718.75L32.5 718.25L35 720L38.75 725L42.5 731.25L45 733.75L47.5 732.5L51.25 734.5L55 735.75L58.75 732.5L62.5 730.5L66.25 730L68.75 731.25L72.5 734.25L76.25 733L80 731.75L83.75 732.5L87.5 732.5L91.25 733.25L95 732L98.75 727.5L102.5 723.75L106.25 722.5L110 723L113.75 721.75L115.5 728.75L117.5 731.75L121.25 733L125 735L130 733.75L136.25 733.75L140.5 737L143.75 733.75L147.5 727L150 728.75L151.25 730L155 726.25L158.75 729.5L163.75 732.5L170 728.75L175 731.25L178.75 728.75L185 728.75L190 730.75L195 733.75L198.75 735L202.5 732.5L206.25 728.75L210.5 728L213.75 732.5L217.5 737.5L221.25 738L223.75 740.5L227.5 738.75L231.25 740L235 741.25L238.75 741.75L243.75 740.75L247.5 740L251.25 741.25L255 735.5L258.75 736.25L262.5 734.5L266.25 735.5L270 736.25L273.75 733.25L277.5 735L281.25 733L285 732.5L290 734.5L293.75 730L297 728.25L301.25 737L305 738L310 741.75L315 742.5L320 742.5L323.75 731.75L327.5 739.5L331.25 738.75L336.25 735.75L343.75 738L347.5 735.75L352.5 740L357.5 742L362.5 740L366.25 741.25L370 739.5L373.75 738L378.75 738.75L385 737L390 732L395 734.5L400 734.25L403.75 733L408.75 729.25L412.5 730L416.25 732L420 732.5L425 736.25L430 739.25L435 738L439.5 733.25L443.75 737L448.75 736.25L453.75 736.25L460 742.5L466.25 745.5L470 735L473.75 739.5L477.5 737L481.25 733.75L485 735L488.75 734.25L492.5 735L497.5 735L505 735L510 733.25L516.25 735L520 725.5L523.75 724.25L527.5 725L533.75 723L537.5 724.25L542.5 724.25L548.75 724.25L553.75 721.75L558.75 721.25L563.75 723L567.5 724.5L572.5 724.5L577.5 724.5L581.25 707.5L585 705L588.75 702.5L592.5 705.75L596.25 707L600 705L605 709.5L608.75 712.5L611.25 712L616.25 715.5L620 715L623.75 714.25L628.75 714.25L635 711.25L638 718L640 719.25L645 718L650 717L653.75 714.5L657.5 713.75L661.25 718L666.25 723L671.25 723L676.25 720L683.75 720L688.75 730L693.75 727L696.25 725.5L700 726.25L703.75 720L707.5 716.25L711.25 717.5L716.25 723.75L722.5 727.5L730 728.25L736.25 728.75L741.25 728.75L745 732.5L750 738L753.75 739.5L757.5 731.25L762.5 728.75L767.5 730L773.75 729.25L780 726.25L783.75 726.75L788 730.5L791.25 723.75L795 722.5L800 727L805 725.5L808.75 724.25L811.25 725.5L815 721.25L818.75 717L822.5 712.5L827.5 712.5L832 713.25L838.75 710.5L842.5 707L846.25 704.5L851.25 703.75L856.25 703L860 701.75L865 701.25L868 702L872.5 708.75L877.5 707.5L883.75 707L887.5 705.5L891.25 709.5L895 710L900 710L903.75 717.5L907.5 725.5L910.75 728.25L913.75 726.25L918.75 719.5L922.5 723L926.25 721.25L930 717.5L936.25 711.25L940 711.25L945 713L948.75 708.75L953 706.25L956.25 712L960 715L965 716.25L968.75 716.25L972.5 720.75L976.25 726.25L980 722L983.75 724.25L987.5 716.25L991.25 717L995 717L998.75 725L1002.5 721.75L1006.25 723L1010 723.75L1015 726.25L1021.25 725.75L1026.25 727.5L1030 727L1033 724.5L1036.25 727.5L1040 727.5L1045 728.25L1051.25 728L1057.5 727.5L1061.25 725.5L1063.75 724.25L1063.75 713.75L6.25 713.75Z" fill="url(#ob)" clip-path="url(#obc)"/>
<g stroke="#9a9aa2" stroke-width="1" stroke-dasharray="3.2 3.6" shape-rendering="crispEdges"><line x1="7" x2="1232" y1="713.5" y2="713.5"/><line x1="7" x2="1232" y1="742.5" y2="742.5"/></g>
<line x1="7" x2="1232" y1="728.5" y2="728.5" stroke="#b8b5c8" stroke-width="1" stroke-dasharray="3.2 3.6" shape-rendering="crispEdges"/>
<path d="M6.25 715C9.38 715.08 19.79 715.08 25 715.5C30.21 715.92 33.33 716.33 37.5 717.5C41.67 718.67 45.83 721.04 50 722.5C54.17 723.96 58.33 725.21 62.5 726.25C66.67 727.29 70.83 727.79 75 728.75C79.17 729.71 83.33 731.38 87.5 732C91.67 732.62 95.83 732.83 100 732.5C104.17 732.17 108.33 730.42 112.5 730C116.67 729.58 120.83 729.79 125 730C129.17 730.21 133.33 730.83 137.5 731.25C141.67 731.67 145.83 732.5 150 732.5C154.17 732.5 158.33 731.67 162.5 731.25C166.67 730.83 170.83 730.29 175 730C179.17 729.71 183.33 729.38 187.5 729.5C191.67 729.62 195.83 730.46 200 730.75C204.17 731.04 208.33 730.75 212.5 731.25C216.67 731.75 220.83 732.92 225 733.75C229.17 734.58 233.33 735.42 237.5 736.25C241.67 737.08 245.83 738.21 250 738.75C254.17 739.29 258.33 739.62 262.5 739.5C266.67 739.38 270.83 738.54 275 738C279.17 737.46 283.33 736.75 287.5 736.25C291.67 735.75 295.83 735.21 300 735C304.17 734.79 309.17 734.79 312.5 735C315.83 735.21 314.58 735.92 320 736.25C325.42 736.58 336.67 736.46 345 737C353.33 737.54 361.67 739.33 370 739.5C378.33 739.67 386.67 738.75 395 738C403.33 737.25 411.67 735.29 420 735C428.33 734.71 436.67 735.62 445 736.25C453.33 736.88 463.75 738.33 470 738.75C476.25 739.17 478.33 739.04 482.5 738.75C486.67 738.46 488.75 737.83 495 737C501.25 736.17 511.67 735.25 520 733.75C528.33 732.25 536.67 729.54 545 728C553.33 726.46 563.75 725.83 570 724.5C576.25 723.17 578.33 721.38 582.5 720C586.67 718.62 590.83 717.42 595 716.25C599.17 715.08 603.33 713.71 607.5 713C611.67 712.29 615.83 712.5 620 712C624.17 711.5 629.17 709.92 632.5 710C635.83 710.08 636.25 711.88 640 712.5C643.75 713.12 650 713 655 713.75C660 714.5 664.17 715.96 670 717C675.83 718.04 682.5 718.75 690 720C697.5 721.25 706.67 723.25 715 724.5C723.33 725.75 731.67 726.58 740 727.5C748.33 728.42 756.67 729.58 765 730C773.33 730.42 783.75 730.21 790 730C796.25 729.79 798.33 729.38 802.5 728.75C806.67 728.12 810.83 727.5 815 726.25C819.17 725 823.33 722.79 827.5 721.25C831.67 719.71 835.83 718.25 840 717C844.17 715.75 848.33 714.83 852.5 713.75C856.67 712.67 860.83 711.46 865 710.5C869.17 709.54 873.33 708.71 877.5 708C881.67 707.29 885.83 706.67 890 706.25C894.17 705.83 898.33 704.67 902.5 705.5C906.67 706.33 910.83 709.75 915 711.25C919.17 712.75 923.33 713.88 927.5 714.5C931.67 715.12 935.83 714.83 940 715C944.17 715.17 949.17 715.29 952.5 715.5C955.83 715.71 956.67 716.12 960 716.25C963.33 716.38 968.33 716.38 972.5 716.25C976.67 716.12 980.83 715.29 985 715.5C989.17 715.71 993.33 716.75 997.5 717.5C1001.67 718.25 1005.83 719.17 1010 720C1014.17 720.83 1018.33 721.67 1022.5 722.5C1026.67 723.33 1030.83 724.25 1035 725C1039.17 725.75 1043.33 726.67 1047.5 727C1051.67 727.33 1057.29 727.04 1060 727C1062.71 726.96 1063.12 726.79 1063.75 726.75" fill="none" stroke="#ece7b4" stroke-width="1.1"/>
<path d="M6.25 722L10 724.5L13.75 720L18.75 719.25L22.5 719.25L25 720.5L28.75 718.75L32.5 718.25L35 720L38.75 725L42.5 731.25L45 733.75L47.5 732.5L51.25 734.5L55 735.75L58.75 732.5L62.5 730.5L66.25 730L68.75 731.25L72.5 734.25L76.25 733L80 731.75L83.75 732.5L87.5 732.5L91.25 733.25L95 732L98.75 727.5L102.5 723.75L106.25 722.5L110 723L113.75 721.75L115.5 728.75L117.5 731.75L121.25 733L125 735L130 733.75L136.25 733.75L140.5 737L143.75 733.75L147.5 727L150 728.75L151.25 730L155 726.25L158.75 729.5L163.75 732.5L170 728.75L175 731.25L178.75 728.75L185 728.75L190 730.75L195 733.75L198.75 735L202.5 732.5L206.25 728.75L210.5 728L213.75 732.5L217.5 737.5L221.25 738L223.75 740.5L227.5 738.75L231.25 740L235 741.25L238.75 741.75L243.75 740.75L247.5 740L251.25 741.25L255 735.5L258.75 736.25L262.5 734.5L266.25 735.5L270 736.25L273.75 733.25L277.5 735L281.25 733L285 732.5L290 734.5L293.75 730L297 728.25L301.25 737L305 738L310 741.75L315 742.5L320 742.5L323.75 731.75L327.5 739.5L331.25 738.75L336.25 735.75L343.75 738L347.5 735.75L352.5 740L357.5 742L362.5 740L366.25 741.25L370 739.5L373.75 738L378.75 738.75L385 737L390 732L395 734.5L400 734.25L403.75 733L408.75 729.25L412.5 730L416.25 732L420 732.5L425 736.25L430 739.25L435 738L439.5 733.25L443.75 737L448.75 736.25L453.75 736.25L460 742.5L466.25 745.5L470 735L473.75 739.5L477.5 737L481.25 733.75L485 735L488.75 734.25L492.5 735L497.5 735L505 735L510 733.25L516.25 735L520 725.5L523.75 724.25L527.5 725L533.75 723L537.5 724.25L542.5 724.25L548.75 724.25L553.75 721.75L558.75 721.25L563.75 723L567.5 724.5L572.5 724.5L577.5 724.5L581.25 707.5L585 705L588.75 702.5L592.5 705.75L596.25 707L600 705L605 709.5L608.75 712.5L611.25 712L616.25 715.5L620 715L623.75 714.25L628.75 714.25L635 711.25L638 718L640 719.25L645 718L650 717L653.75 714.5L657.5 713.75L661.25 718L666.25 723L671.25 723L676.25 720L683.75 720L688.75 730L693.75 727L696.25 725.5L700 726.25L703.75 720L707.5 716.25L711.25 717.5L716.25 723.75L722.5 727.5L730 728.25L736.25 728.75L741.25 728.75L745 732.5L750 738L753.75 739.5L757.5 731.25L762.5 728.75L767.5 730L773.75 729.25L780 726.25L783.75 726.75L788 730.5L791.25 723.75L795 722.5L800 727L805 725.5L808.75 724.25L811.25 725.5L815 721.25L818.75 717L822.5 712.5L827.5 712.5L832 713.25L838.75 710.5L842.5 707L846.25 704.5L851.25 703.75L856.25 703L860 701.75L865 701.25L868 702L872.5 708.75L877.5 707.5L883.75 707L887.5 705.5L891.25 709.5L895 710L900 710L903.75 717.5L907.5 725.5L910.75 728.25L913.75 726.25L918.75 719.5L922.5 723L926.25 721.25L930 717.5L936.25 711.25L940 711.25L945 713L948.75 708.75L953 706.25L956.25 712L960 715L965 716.25L968.75 716.25L972.5 720.75L976.25 726.25L980 722L983.75 724.25L987.5 716.25L991.25 717L995 717L998.75 725L1002.5 721.75L1006.25 723L1010 723.75L1015 726.25L1021.25 725.75L1026.25 727.5L1030 727L1033 724.5L1036.25 727.5L1040 727.5L1045 728.25L1051.25 728L1057.5 727.5L1061.25 725.5L1063.75 724.25" fill="none" stroke="#7d79a6" stroke-width="1" stroke-linejoin="round"/>
<g font-size="8.6" fill="#333" text-anchor="end">
<text x="1263" y="49.3" textLength="25.6" lengthAdjust="spacingAndGlyphs">5,200.0</text>
<text x="1263" y="80.4" textLength="25.6" lengthAdjust="spacingAndGlyphs">5,000.0</text>
<text x="1263" y="111.5" textLength="25.6" lengthAdjust="spacingAndGlyphs">4,800.0</text>
<text x="1263" y="142.6" textLength="25.6" lengthAdjust="spacingAndGlyphs">4,600.0</text>
<text x="1263" y="173.7" textLength="25.6" lengthAdjust="spacingAndGlyphs">4,400.0</text>
<text x="1263" y="204.8" textLength="25.6" lengthAdjust="spacingAndGlyphs">4,200.0</text>
<text x="1263" y="235.9" textLength="25.6" lengthAdjust="spacingAndGlyphs">4,000.0</text>
<text x="1263" y="267" textLength="25.6" lengthAdjust="spacingAndGlyphs">3,800.0</text>
<text x="1263" y="298.1" textLength="25.6" lengthAdjust="spacingAndGlyphs">3,600.0</text>
<text x="1263" y="329.2" textLength="25.6" lengthAdjust="spacingAndGlyphs">3,400.0</text>
<text x="1263" y="360.3" textLength="25.6" lengthAdjust="spacingAndGlyphs">3,200.0</text>
<text x="1263" y="391.4" textLength="25.6" lengthAdjust="spacingAndGlyphs">3,000.0</text>
<text x="1263" y="422.5" textLength="25.6" lengthAdjust="spacingAndGlyphs">2,800.0</text>
<text x="1263" y="453.6" textLength="25.6" lengthAdjust="spacingAndGlyphs">2,600.0</text>
<text x="1263" y="484.7" textLength="25.6" lengthAdjust="spacingAndGlyphs">2,400.0</text>
<text x="1263" y="515.8" textLength="25.6" lengthAdjust="spacingAndGlyphs">2,200.0</text>
<text x="1263" y="546.9" textLength="25.6" lengthAdjust="spacingAndGlyphs">2,000.0</text>
<text x="1263" y="578" textLength="25.6" lengthAdjust="spacingAndGlyphs">1,800.0</text>
<text x="1263" y="609.1" textLength="25.6" lengthAdjust="spacingAndGlyphs">1,600.0</text>
<text x="1263" y="640.2" textLength="25.6" lengthAdjust="spacingAndGlyphs">1,400.0</text>
<text x="1263" y="671.3" textLength="25.6" lengthAdjust="spacingAndGlyphs">1,200.0</text>
<text x="1256.5" y="710" textLength="19.5" lengthAdjust="spacingAndGlyphs">80.00</text>
</g>
<rect x="1199.3" y="162.3" width="31.7" height="10.2" fill="#22998a"/><text x="1215.15" y="170.5" font-size="8.6" fill="#ffffff" text-anchor="middle" font-weight="bold" textLength="27" lengthAdjust="spacingAndGlyphs">ETHUSD</text>
<rect x="1232.3" y="162.3" width="38" height="18.8" fill="#22998a"/><text x="1250" y="170.4" font-size="8.6" fill="#ffffff" text-anchor="middle" font-weight="bold" textLength="25.5" lengthAdjust="spacingAndGlyphs">4,427.2</text>
<text x="1252.3" y="179.2" font-size="8.6" fill="#e6fffb" text-anchor="middle" textLength="30" lengthAdjust="spacingAndGlyphs">12:55:25</text>
<rect x="1232.3" y="182.1" width="34" height="9.9" fill="#187d1c"/><text x="1250" y="190.15" font-size="8.6" fill="#e8ffd0" text-anchor="middle" font-weight="bold" textLength="25.5" lengthAdjust="spacingAndGlyphs">4,324.5</text>
<rect x="1232.3" y="199" width="34" height="9.7" fill="#5b9cf0"/><text x="1250" y="206.95" font-size="8.6" fill="#0d1f6b" text-anchor="middle" font-weight="bold" textLength="25.5" lengthAdjust="spacingAndGlyphs">4,191.5</text>
<rect x="1232.3" y="280.9" width="34" height="9.9" fill="#f5a12b"/><text x="1250" y="288.95" font-size="8.6" fill="#8a2a00" text-anchor="middle" font-weight="bold" textLength="25.5" lengthAdjust="spacingAndGlyphs">3,664.2</text>
<rect x="1232.3" y="347" width="34" height="10.7" fill="#000000"/><text x="1250" y="355.45" font-size="8.6" fill="#ffffff" text-anchor="middle" font-weight="bold" textLength="25.5" lengthAdjust="spacingAndGlyphs">3,235.7</text>
<rect x="1232.3" y="671.8" width="29" height="10.2" fill="#26a69a"/><text x="1246.8" y="680" font-size="8.6" fill="#ffffff" text-anchor="middle" font-weight="bold" textLength="21.5" lengthAdjust="spacingAndGlyphs">5.12K</text>
<rect x="1232" y="719" width="27.5" height="10.8" fill="#7e57c2"/><text x="1245.6" y="727.5" font-size="8.6" fill="#ffffff" text-anchor="middle" font-weight="bold" textLength="19.5" lengthAdjust="spacingAndGlyphs">54.86</text>
<rect x="1232" y="729.8" width="27.6" height="11.6" fill="#f5ec42"/><text x="1245.6" y="738.7" font-size="8.6" fill="#222222" text-anchor="middle" font-weight="bold" textLength="19.5" lengthAdjust="spacingAndGlyphs">51.30</text>
<g font-size="8.8" fill="#333" text-anchor="middle">
<text x="94.27" y="763.2" font-weight="bold" textLength="17.6" lengthAdjust="spacingAndGlyphs">2025</text>
<text x="213.05" y="763.2" textLength="13.2" lengthAdjust="spacingAndGlyphs">Feb</text>
<text x="320.33" y="763.2" textLength="13.4" lengthAdjust="spacingAndGlyphs">Mar</text>
<text x="439.11" y="763.2" textLength="12.6" lengthAdjust="spacingAndGlyphs">Apr</text>
<text x="554.05" y="763.2" textLength="14.2" lengthAdjust="spacingAndGlyphs">May</text>
<text x="672.83" y="763.2" textLength="12.6" lengthAdjust="spacingAndGlyphs">Jun</text>
<text x="787.78" y="763.2" textLength="10.2" lengthAdjust="spacingAndGlyphs">Jul</text>
<text x="906.55" y="763.2" textLength="13.6" lengthAdjust="spacingAndGlyphs">Aug</text>
<text x="1025.33" y="763.2" textLength="13.6" lengthAdjust="spacingAndGlyphs">Sep</text>
<text x="1140.27" y="763.2" textLength="12.4" lengthAdjust="spacingAndGlyphs">Oct</text>
</g>
<text x="6.8" y="12.2" font-size="9" fill="#1c1c1c" stroke="#1c1c1c" stroke-width="0.15" textLength="247" lengthAdjust="spacingAndGlyphs">arman_shirinyan created with TradingView.com, Sep 11, 2025 11:04 UTC</text>
<g font-size="8.6">
<text x="11.6" y="28.9" fill="#2b2b2b" textLength="132" lengthAdjust="spacingAndGlyphs">Ethereum / U.S. Dollar · 1D · Bitstamp</text>
<text x="148.3" y="28.9" textLength="32" lengthAdjust="spacingAndGlyphs"><tspan fill="#2b2b2b">O</tspan><tspan fill="#25998c">4,350.4</tspan></text>
<text x="184.3" y="28.9" textLength="31.5" lengthAdjust="spacingAndGlyphs"><tspan fill="#2b2b2b">H</tspan><tspan fill="#25998c">4,453.8</tspan></text>
<text x="219.4" y="28.9" textLength="29.5" lengthAdjust="spacingAndGlyphs"><tspan fill="#2b2b2b">L</tspan><tspan fill="#25998c">4,339.8</tspan></text>
<text x="252.6" y="28.9" textLength="31.5" lengthAdjust="spacingAndGlyphs"><tspan fill="#2b2b2b">C</tspan><tspan fill="#25998c">4,427.2</tspan></text>
<text x="287.4" y="28.9" fill="#25998c" textLength="50" lengthAdjust="spacingAndGlyphs">+77.2 (+1.77%)</text>
</g>
<g fill="#111">
<path d="M7.75 783.1H15.6V791.9H11.6V787.5H7.75Z"/>
<circle cx="18.3" cy="785.1" r="1.75"/>
<path d="M21.3 783.1H26.3L23.1 791.9H18.1Z"/>
<text x="31.4" y="791.9" font-size="12.6" font-weight="bold" textLength="76.3" lengthAdjust="spacingAndGlyphs">TradingView</text>
</g>
</svg></body></html>
